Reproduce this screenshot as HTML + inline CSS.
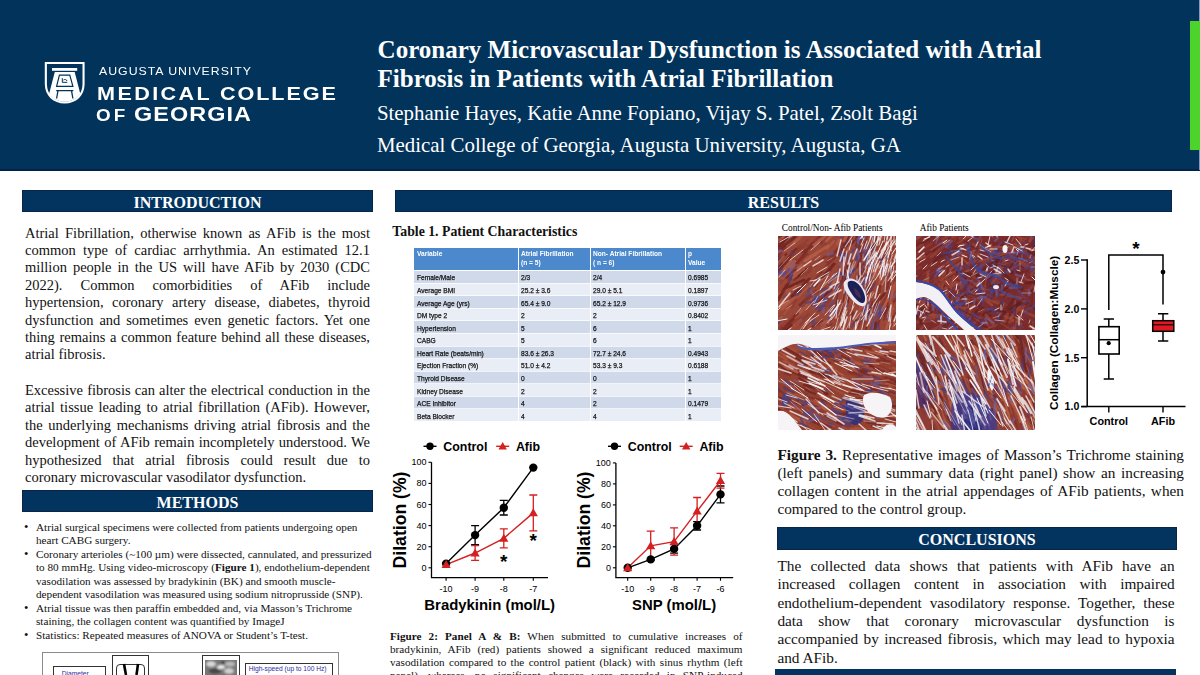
<!DOCTYPE html>
<html><head><meta charset="utf-8"><title>Poster</title>
<style>
html,body{margin:0;padding:0;}
body{width:1200px;height:675px;position:relative;overflow:hidden;background:#fff;}
.t{position:absolute;white-space:nowrap;}
.r{position:absolute;}
b{font-weight:bold;}
</style></head><body>
<div class="r" style="left:0px;top:0px;width:1200px;height:171px;background:#02335b;"></div>
<div class="r" style="left:0px;top:169px;width:1200px;height:2px;background:#042447;"></div>
<div class="r" style="left:1190px;top:21px;width:10px;height:129px;background:#4cd32c;"></div>
<div class="r" style="left:1199px;top:0px;width:1px;height:21px;background:#7f9cc4;"></div>
<div class="r" style="left:1199px;top:150px;width:1px;height:20px;background:#7f9cc4;"></div>
<div class="t" style="left:377.6px;top:33.54px;font-size:25px;line-height:31.25px;font-family:'Liberation Serif', serif;font-weight:bold;color:#fff;">Coronary Microvascular Dysfunction is Associated with Atrial</div>
<div class="t" style="left:377.6px;top:62.94px;font-size:25px;line-height:31.25px;font-family:'Liberation Serif', serif;font-weight:bold;color:#fff;">Fibrosis in Patients with Atrial Fibrillation</div>
<div class="t" style="left:376.9px;top:99.79px;font-size:20.9px;line-height:26.12px;font-family:'Liberation Serif', serif;font-weight:normal;color:#fff;">Stephanie Hayes, Katie Anne Fopiano, Vijay S. Patel, Zsolt Bagi</div>
<div class="t" style="left:376.9px;top:131.69px;font-size:20.9px;line-height:26.12px;font-family:'Liberation Serif', serif;font-weight:normal;color:#fff;">Medical College of Georgia, Augusta University, Augusta, GA</div>
<svg class="r" style="left:0;top:0" width="360" height="171" viewBox="0 0 360 171">
<path d="M44.8 61.9 H84.6 V84 C84.6 96 76 103.2 64.7 103.6 C53.4 103.2 44.8 96 44.8 84 Z" fill="#fff"/>
<path d="M46.9 64 H82.5 V84 C82.5 94.5 75 101.3 64.7 101.6 C54.4 101.3 46.9 94.5 46.9 84 Z" fill="#02335b"/>
<path d="M54.8 71.9 H74.7 L80.2 93.6 C77.5 98.5 72 101.6 64.7 101.7 C57.4 101.6 51.9 98.5 49.2 93.6 Z" fill="#fff"/>
<rect x="52" y="68" width="25.2" height="2.8" fill="#fff"/>
<path d="M59.4 75.1 H69.8 L72.9 86.4 H56.6 Z" fill="none" stroke="#02335b" stroke-width="1.2"/>
<path d="M62.3 78.2 V82.3 H67.3 M63.5 80 C65 79 66.5 79.5 67 81" stroke="#02335b" stroke-width="1" fill="none"/>
<path d="M56.2 90.7 H73.3 M58 90.7 L56.6 98.5 M71.5 90.7 L72.9 98.5" stroke="#02335b" stroke-width="1.3" fill="none"/>
</svg>
<div class="t" style="left:98.5px;top:64.60px;font-size:11.2px;line-height:13.44px;font-family:'Liberation Sans', sans-serif;font-weight:normal;color:#fff;letter-spacing:0.9px;transform:scaleX(1.1);transform-origin:0 0;">AUGUSTA UNIVERSITY</div>
<div class="t" style="left:97.0px;top:83.96px;font-size:18px;line-height:21.60px;font-family:'Liberation Sans', sans-serif;font-weight:bold;color:#fff;letter-spacing:2.0px;transform:scaleX(1.2);transform-origin:0 0;">MEDICAL</div>
<div class="t" style="left:219.5px;top:83.96px;font-size:18px;line-height:21.60px;font-family:'Liberation Sans', sans-serif;font-weight:bold;color:#fff;letter-spacing:1.6px;transform:scaleX(1.2);transform-origin:0 0;">COLLEGE</div>
<div class="t" style="left:96.0px;top:106.64px;font-size:15.7px;line-height:18.84px;font-family:'Liberation Sans', sans-serif;font-weight:bold;color:#fff;letter-spacing:2.6px;transform:scaleX(1.2);transform-origin:0 0;">OF</div>
<div class="t" style="left:133.8px;top:103.04px;font-size:19.5px;line-height:23.40px;font-family:'Liberation Sans', sans-serif;font-weight:bold;color:#fff;letter-spacing:0.9px;transform:scaleX(1.2);transform-origin:0 0;">GEORGIA</div>
<div class="r" style="left:22px;top:190px;width:351px;height:22px;background:#03345f;box-shadow:inset 0 0 0 1px #0a2545;"></div>
<div class="t" style="left:22px;top:192.50px;width:351px;text-align:center;font-size:16px;line-height:20.0px;font-family:'Liberation Serif', serif;font-weight:bold;color:#fff;">INTRODUCTION</div>
<div class="t" style="left:25px;top:223.75px;font-size:14.5px;line-height:18.12px;font-family:'Liberation Serif', serif;font-weight:normal;color:#111;width:345px;text-align:justify;text-align-last:justify;white-space:normal;">Atrial Fibrillation, otherwise known as AFib is the most</div>
<div class="t" style="left:25px;top:241.12px;font-size:14.5px;line-height:18.12px;font-family:'Liberation Serif', serif;font-weight:normal;color:#111;width:345px;text-align:justify;text-align-last:justify;white-space:normal;">common type of cardiac arrhythmia. An estimated 12.1</div>
<div class="t" style="left:25px;top:258.49px;font-size:14.5px;line-height:18.12px;font-family:'Liberation Serif', serif;font-weight:normal;color:#111;width:345px;text-align:justify;text-align-last:justify;white-space:normal;">million people in the US will have AFib by 2030 (CDC</div>
<div class="t" style="left:25px;top:275.86px;font-size:14.5px;line-height:18.12px;font-family:'Liberation Serif', serif;font-weight:normal;color:#111;width:345px;text-align:justify;text-align-last:justify;white-space:normal;">2022). Common comorbidities of AFib include</div>
<div class="t" style="left:25px;top:293.23px;font-size:14.5px;line-height:18.12px;font-family:'Liberation Serif', serif;font-weight:normal;color:#111;width:345px;text-align:justify;text-align-last:justify;white-space:normal;">hypertension, coronary artery disease, diabetes, thyroid</div>
<div class="t" style="left:25px;top:310.60px;font-size:14.5px;line-height:18.12px;font-family:'Liberation Serif', serif;font-weight:normal;color:#111;width:345px;text-align:justify;text-align-last:justify;white-space:normal;">dysfunction and sometimes even genetic factors. Yet one</div>
<div class="t" style="left:25px;top:327.97px;font-size:14.5px;line-height:18.12px;font-family:'Liberation Serif', serif;font-weight:normal;color:#111;width:345px;text-align:justify;text-align-last:justify;white-space:normal;">thing remains a common feature behind all these diseases,</div>
<div class="t" style="left:25px;top:345.34px;font-size:14.5px;line-height:18.12px;font-family:'Liberation Serif', serif;font-weight:normal;color:#111;width:345px;">atrial fibrosis.</div>
<div class="t" style="left:25px;top:381.05px;font-size:14.5px;line-height:18.12px;font-family:'Liberation Serif', serif;font-weight:normal;color:#111;width:345px;text-align:justify;text-align-last:justify;white-space:normal;">Excessive fibrosis can alter the electrical conduction in the</div>
<div class="t" style="left:25px;top:398.42px;font-size:14.5px;line-height:18.12px;font-family:'Liberation Serif', serif;font-weight:normal;color:#111;width:345px;text-align:justify;text-align-last:justify;white-space:normal;">atrial tissue leading to atrial fibrillation (AFib). However,</div>
<div class="t" style="left:25px;top:415.79px;font-size:14.5px;line-height:18.12px;font-family:'Liberation Serif', serif;font-weight:normal;color:#111;width:345px;text-align:justify;text-align-last:justify;white-space:normal;">the underlying mechanisms driving atrial fibrosis and the</div>
<div class="t" style="left:25px;top:433.16px;font-size:14.5px;line-height:18.12px;font-family:'Liberation Serif', serif;font-weight:normal;color:#111;width:345px;text-align:justify;text-align-last:justify;white-space:normal;">development of AFib remain incompletely understood. We</div>
<div class="t" style="left:25px;top:450.53px;font-size:14.5px;line-height:18.12px;font-family:'Liberation Serif', serif;font-weight:normal;color:#111;width:345px;text-align:justify;text-align-last:justify;white-space:normal;">hypothesized that atrial fibrosis could result due to</div>
<div class="t" style="left:25px;top:467.90px;font-size:14.5px;line-height:18.12px;font-family:'Liberation Serif', serif;font-weight:normal;color:#111;width:345px;">coronary microvascular vasodilator dysfunction.</div>
<div class="r" style="left:22px;top:490.3px;width:351px;height:22.2px;background:#03345f;box-shadow:inset 0 0 0 1px #0a2545;"></div>
<div class="t" style="left:22px;top:492.80px;width:351px;text-align:center;font-size:16px;line-height:20.0px;font-family:'Liberation Serif', serif;font-weight:bold;color:#fff;">METHODS</div>
<div class="t" style="left:24px;top:520.27px;font-size:12.5px;line-height:15.62px;font-family:'Liberation Serif', serif;font-weight:normal;color:#111;">•</div>
<div class="t" style="left:36px;top:519.92px;font-size:11.2px;line-height:14.0px;font-family:'Liberation Serif', serif;font-weight:normal;color:#111;white-space:nowrap;">Atrial surgical specimens were collected from patients undergoing open</div>
<div class="t" style="left:36px;top:533.37px;font-size:11.2px;line-height:14.0px;font-family:'Liberation Serif', serif;font-weight:normal;color:#111;white-space:nowrap;">heart CABG surgery.</div>
<div class="t" style="left:24px;top:547.17px;font-size:12.5px;line-height:15.62px;font-family:'Liberation Serif', serif;font-weight:normal;color:#111;">•</div>
<div class="t" style="left:36px;top:546.82px;font-size:11.2px;line-height:14.0px;font-family:'Liberation Serif', serif;font-weight:normal;color:#111;white-space:nowrap;">Coronary arterioles (~100 µm) were dissected, cannulated, and pressurized</div>
<div class="t" style="left:36px;top:560.27px;font-size:11.2px;line-height:14.0px;font-family:'Liberation Serif', serif;font-weight:normal;color:#111;white-space:nowrap;">to 80 mmHg. Using video-microscopy (<b>Figure 1</b>), endothelium-dependent</div>
<div class="t" style="left:36px;top:573.72px;font-size:11.2px;line-height:14.0px;font-family:'Liberation Serif', serif;font-weight:normal;color:#111;white-space:nowrap;">vasodilation was assessed by bradykinin (BK) and smooth muscle-</div>
<div class="t" style="left:36px;top:587.17px;font-size:11.2px;line-height:14.0px;font-family:'Liberation Serif', serif;font-weight:normal;color:#111;white-space:nowrap;">dependent vasodilation was measured using sodium nitroprusside (SNP).</div>
<div class="t" style="left:24px;top:600.97px;font-size:12.5px;line-height:15.62px;font-family:'Liberation Serif', serif;font-weight:normal;color:#111;">•</div>
<div class="t" style="left:36px;top:600.62px;font-size:11.2px;line-height:14.0px;font-family:'Liberation Serif', serif;font-weight:normal;color:#111;white-space:nowrap;">Atrial tissue was then paraffin embedded and, via Masson’s Trichrome</div>
<div class="t" style="left:36px;top:614.07px;font-size:11.2px;line-height:14.0px;font-family:'Liberation Serif', serif;font-weight:normal;color:#111;white-space:nowrap;">staining, the collagen content was quantified by ImageJ</div>
<div class="t" style="left:24px;top:627.87px;font-size:12.5px;line-height:15.62px;font-family:'Liberation Serif', serif;font-weight:normal;color:#111;">•</div>
<div class="t" style="left:36px;top:627.52px;font-size:11.2px;line-height:14.0px;font-family:'Liberation Serif', serif;font-weight:normal;color:#111;white-space:nowrap;">Statistics: Repeated measures of ANOVA or Student’s T-test.</div>
<div class="r" style="left:42px;top:652px;width:297px;height:40px;border:1px solid #8a8a8a;box-sizing:border-box;"></div>
<div class="r" style="left:53px;top:666px;width:53px;height:20px;border:1px solid #333;box-sizing:border-box;"></div>
<div class="t" style="left:61.7px;top:670.2px;font-size:6.7px;line-height:8px;font-family:&apos;Liberation Sans&apos;,sans-serif;color:#2a2aa0;">Diameter</div>
<div class="r" style="left:111.5px;top:654.5px;width:37px;height:30px;border:1px solid #333;box-sizing:border-box;"></div>
<div class="r" style="left:116px;top:663.5px;width:29px;height:25px;border:1px solid #333;border-radius:4px;box-sizing:border-box;"></div>
<svg class="r" style="left:116px;top:663px" width="30" height="12"><path d="M8 1 L10 12" stroke="#000" stroke-width="2.6"/><path d="M22 1 L20.5 12" stroke="#000" stroke-width="2.6"/></svg>
<div class="r" style="left:202px;top:654.5px;width:38px;height:30px;border:1px solid #333;box-sizing:border-box;"></div>
<svg class="r" style="left:205px;top:660px" width="32" height="15"><defs><filter id="gb"><feGaussianBlur stdDeviation="0.8"/></filter></defs><rect width="32" height="15" fill="#777"/><g filter="url(#gb)"><ellipse cx="6" cy="4" rx="5" ry="3" fill="#d8d8d8"/><ellipse cx="16" cy="7" rx="4" ry="2" fill="#eee"/><ellipse cx="25" cy="4" rx="5" ry="2.5" fill="#bbb"/><ellipse cx="10" cy="11" rx="6" ry="2.5" fill="#444"/><ellipse cx="24" cy="11" rx="5" ry="3" fill="#cfcfcf"/><ellipse cx="18" cy="3" rx="2" ry="1.5" fill="#333"/></g></svg>
<div class="r" style="left:244.5px;top:663px;width:88px;height:20px;border:1px solid #333;box-sizing:border-box;"></div>
<div class="t" style="left:248.7px;top:664.8px;font-size:6.65px;line-height:8px;font-family:&apos;Liberation Sans&apos;,sans-serif;color:#2a2aa0;">High-speed (up to 100 Hz)</div>

<div class="r" style="left:395px;top:190px;width:777px;height:22px;background:#03345f;box-shadow:inset 0 0 0 1px #0a2545;"></div>
<div class="t" style="left:395px;top:192.50px;width:777px;text-align:center;font-size:16px;line-height:20.0px;font-family:'Liberation Serif', serif;font-weight:bold;color:#fff;">RESULTS</div>
<div class="t" style="left:392.3px;top:222.72px;font-size:13.8px;line-height:17.25px;font-family:'Liberation Serif', serif;font-weight:bold;color:#111;">Table 1. Patient Characteristics</div>
<div class="r" style="left:414.2px;top:248.0px;width:307.09999999999997px;height:22.600000000000023px;background:#4b88cc;"></div>
<div class="r" style="left:414.2px;top:270.6px;width:307.09999999999997px;height:12.57px;background:#d0d9ea;"></div>
<div class="r" style="left:414.2px;top:283.17px;width:307.09999999999997px;height:12.57px;background:#e9edf6;"></div>
<div class="r" style="left:414.2px;top:295.74px;width:307.09999999999997px;height:12.57px;background:#d0d9ea;"></div>
<div class="r" style="left:414.2px;top:308.31px;width:307.09999999999997px;height:12.57px;background:#e9edf6;"></div>
<div class="r" style="left:414.2px;top:320.88px;width:307.09999999999997px;height:12.57px;background:#d0d9ea;"></div>
<div class="r" style="left:414.2px;top:333.45000000000005px;width:307.09999999999997px;height:12.57px;background:#e9edf6;"></div>
<div class="r" style="left:414.2px;top:346.02000000000004px;width:307.09999999999997px;height:12.57px;background:#d0d9ea;"></div>
<div class="r" style="left:414.2px;top:358.59000000000003px;width:307.09999999999997px;height:12.57px;background:#e9edf6;"></div>
<div class="r" style="left:414.2px;top:371.16px;width:307.09999999999997px;height:12.57px;background:#d0d9ea;"></div>
<div class="r" style="left:414.2px;top:383.73px;width:307.09999999999997px;height:12.57px;background:#e9edf6;"></div>
<div class="r" style="left:414.2px;top:396.3px;width:307.09999999999997px;height:12.57px;background:#d0d9ea;"></div>
<div class="r" style="left:414.2px;top:408.87px;width:307.09999999999997px;height:12.57px;background:#e9edf6;"></div>
<div class="r" style="left:517.9px;top:248.0px;width:1px;height:173.44000000000005px;background:#ffffff;"></div>
<div class="r" style="left:589.9px;top:248.0px;width:1px;height:173.44000000000005px;background:#ffffff;"></div>
<div class="r" style="left:685.1px;top:248.0px;width:1px;height:173.44000000000005px;background:#ffffff;"></div>
<div class="r" style="left:414.2px;top:282.77000000000004px;width:307.09999999999997px;height:0.8px;background:rgba(255,255,255,0.7);"></div>
<div class="r" style="left:414.2px;top:295.34000000000003px;width:307.09999999999997px;height:0.8px;background:rgba(255,255,255,0.7);"></div>
<div class="r" style="left:414.2px;top:307.91px;width:307.09999999999997px;height:0.8px;background:rgba(255,255,255,0.7);"></div>
<div class="r" style="left:414.2px;top:320.48px;width:307.09999999999997px;height:0.8px;background:rgba(255,255,255,0.7);"></div>
<div class="r" style="left:414.2px;top:333.05000000000007px;width:307.09999999999997px;height:0.8px;background:rgba(255,255,255,0.7);"></div>
<div class="r" style="left:414.2px;top:345.62000000000006px;width:307.09999999999997px;height:0.8px;background:rgba(255,255,255,0.7);"></div>
<div class="r" style="left:414.2px;top:358.19000000000005px;width:307.09999999999997px;height:0.8px;background:rgba(255,255,255,0.7);"></div>
<div class="r" style="left:414.2px;top:370.76000000000005px;width:307.09999999999997px;height:0.8px;background:rgba(255,255,255,0.7);"></div>
<div class="r" style="left:414.2px;top:383.33000000000004px;width:307.09999999999997px;height:0.8px;background:rgba(255,255,255,0.7);"></div>
<div class="r" style="left:414.2px;top:395.90000000000003px;width:307.09999999999997px;height:0.8px;background:rgba(255,255,255,0.7);"></div>
<div class="r" style="left:414.2px;top:408.47px;width:307.09999999999997px;height:0.8px;background:rgba(255,255,255,0.7);"></div>
<div class="r" style="left:414.2px;top:421.0400000000001px;width:307.09999999999997px;height:0.8px;background:rgba(255,255,255,0.7);"></div>
<div class="r" style="left:414.2px;top:270.1px;width:307.09999999999997px;height:1.2px;background:#ffffff;"></div>
<div class="t" style="left:416.5px;top:249.22px;font-size:7.6px;line-height:9.5px;font-family:'Liberation Sans', sans-serif;font-weight:bold;color:#fff;white-space:nowrap;transform:scaleX(0.87);transform-origin:0 0;">Variable</div>
<div class="t" style="left:520.6999999999999px;top:249.22px;font-size:7.6px;line-height:9.5px;font-family:'Liberation Sans', sans-serif;font-weight:bold;color:#fff;white-space:nowrap;transform:scaleX(0.87);transform-origin:0 0;">Atrial Fibrillation</div>
<div class="t" style="left:520.6999999999999px;top:258.42px;font-size:7.6px;line-height:9.5px;font-family:'Liberation Sans', sans-serif;font-weight:bold;color:#fff;white-space:nowrap;transform:scaleX(0.87);transform-origin:0 0;">(n = 5)</div>
<div class="t" style="left:592.6999999999999px;top:249.22px;font-size:7.6px;line-height:9.5px;font-family:'Liberation Sans', sans-serif;font-weight:bold;color:#fff;white-space:nowrap;transform:scaleX(0.87);transform-origin:0 0;">Non- Atrial Fibrillation</div>
<div class="t" style="left:592.6999999999999px;top:258.42px;font-size:7.6px;line-height:9.5px;font-family:'Liberation Sans', sans-serif;font-weight:bold;color:#fff;white-space:nowrap;transform:scaleX(0.87);transform-origin:0 0;">( n = 6)</div>
<div class="t" style="left:687.9px;top:249.22px;font-size:7.6px;line-height:9.5px;font-family:'Liberation Sans', sans-serif;font-weight:bold;color:#fff;white-space:nowrap;transform:scaleX(0.87);transform-origin:0 0;">p</div>
<div class="t" style="left:687.9px;top:258.42px;font-size:7.6px;line-height:9.5px;font-family:'Liberation Sans', sans-serif;font-weight:bold;color:#fff;white-space:nowrap;transform:scaleX(0.87);transform-origin:0 0;">Value</div>
<div class="t" style="left:416.5px;top:273.42px;font-size:7.6px;line-height:9.5px;font-family:'Liberation Sans', sans-serif;font-weight:normal;color:#111;white-space:nowrap;-webkit-text-stroke:0.25px #111;transform:scaleX(0.87);transform-origin:0 0;">Female/Male</div>
<div class="t" style="left:520.6999999999999px;top:273.42px;font-size:7.6px;line-height:9.5px;font-family:'Liberation Sans', sans-serif;font-weight:normal;color:#111;white-space:nowrap;-webkit-text-stroke:0.25px #111;transform:scaleX(0.87);transform-origin:0 0;">2/3</div>
<div class="t" style="left:592.6999999999999px;top:273.42px;font-size:7.6px;line-height:9.5px;font-family:'Liberation Sans', sans-serif;font-weight:normal;color:#111;white-space:nowrap;-webkit-text-stroke:0.25px #111;transform:scaleX(0.87);transform-origin:0 0;">2/4</div>
<div class="t" style="left:687.9px;top:273.42px;font-size:7.6px;line-height:9.5px;font-family:'Liberation Sans', sans-serif;font-weight:normal;color:#111;white-space:nowrap;-webkit-text-stroke:0.25px #111;transform:scaleX(0.87);transform-origin:0 0;">0.6985</div>
<div class="t" style="left:416.5px;top:285.99px;font-size:7.6px;line-height:9.5px;font-family:'Liberation Sans', sans-serif;font-weight:normal;color:#111;white-space:nowrap;-webkit-text-stroke:0.25px #111;transform:scaleX(0.87);transform-origin:0 0;">Average BMI</div>
<div class="t" style="left:520.6999999999999px;top:285.99px;font-size:7.6px;line-height:9.5px;font-family:'Liberation Sans', sans-serif;font-weight:normal;color:#111;white-space:nowrap;-webkit-text-stroke:0.25px #111;transform:scaleX(0.87);transform-origin:0 0;">25.2 ± 3.6</div>
<div class="t" style="left:592.6999999999999px;top:285.99px;font-size:7.6px;line-height:9.5px;font-family:'Liberation Sans', sans-serif;font-weight:normal;color:#111;white-space:nowrap;-webkit-text-stroke:0.25px #111;transform:scaleX(0.87);transform-origin:0 0;">29.0 ± 5.1</div>
<div class="t" style="left:687.9px;top:285.99px;font-size:7.6px;line-height:9.5px;font-family:'Liberation Sans', sans-serif;font-weight:normal;color:#111;white-space:nowrap;-webkit-text-stroke:0.25px #111;transform:scaleX(0.87);transform-origin:0 0;">0.1897</div>
<div class="t" style="left:416.5px;top:298.56px;font-size:7.6px;line-height:9.5px;font-family:'Liberation Sans', sans-serif;font-weight:normal;color:#111;white-space:nowrap;-webkit-text-stroke:0.25px #111;transform:scaleX(0.87);transform-origin:0 0;">Average Age (yrs)</div>
<div class="t" style="left:520.6999999999999px;top:298.56px;font-size:7.6px;line-height:9.5px;font-family:'Liberation Sans', sans-serif;font-weight:normal;color:#111;white-space:nowrap;-webkit-text-stroke:0.25px #111;transform:scaleX(0.87);transform-origin:0 0;">65.4 ± 9.0</div>
<div class="t" style="left:592.6999999999999px;top:298.56px;font-size:7.6px;line-height:9.5px;font-family:'Liberation Sans', sans-serif;font-weight:normal;color:#111;white-space:nowrap;-webkit-text-stroke:0.25px #111;transform:scaleX(0.87);transform-origin:0 0;">65.2 ± 12.9</div>
<div class="t" style="left:687.9px;top:298.56px;font-size:7.6px;line-height:9.5px;font-family:'Liberation Sans', sans-serif;font-weight:normal;color:#111;white-space:nowrap;-webkit-text-stroke:0.25px #111;transform:scaleX(0.87);transform-origin:0 0;">0.9736</div>
<div class="t" style="left:416.5px;top:311.13px;font-size:7.6px;line-height:9.5px;font-family:'Liberation Sans', sans-serif;font-weight:normal;color:#111;white-space:nowrap;-webkit-text-stroke:0.25px #111;transform:scaleX(0.87);transform-origin:0 0;">DM type 2</div>
<div class="t" style="left:520.6999999999999px;top:311.13px;font-size:7.6px;line-height:9.5px;font-family:'Liberation Sans', sans-serif;font-weight:normal;color:#111;white-space:nowrap;-webkit-text-stroke:0.25px #111;transform:scaleX(0.87);transform-origin:0 0;">2</div>
<div class="t" style="left:592.6999999999999px;top:311.13px;font-size:7.6px;line-height:9.5px;font-family:'Liberation Sans', sans-serif;font-weight:normal;color:#111;white-space:nowrap;-webkit-text-stroke:0.25px #111;transform:scaleX(0.87);transform-origin:0 0;">2</div>
<div class="t" style="left:687.9px;top:311.13px;font-size:7.6px;line-height:9.5px;font-family:'Liberation Sans', sans-serif;font-weight:normal;color:#111;white-space:nowrap;-webkit-text-stroke:0.25px #111;transform:scaleX(0.87);transform-origin:0 0;">0.8402</div>
<div class="t" style="left:416.5px;top:323.70px;font-size:7.6px;line-height:9.5px;font-family:'Liberation Sans', sans-serif;font-weight:normal;color:#111;white-space:nowrap;-webkit-text-stroke:0.25px #111;transform:scaleX(0.87);transform-origin:0 0;">Hypertension</div>
<div class="t" style="left:520.6999999999999px;top:323.70px;font-size:7.6px;line-height:9.5px;font-family:'Liberation Sans', sans-serif;font-weight:normal;color:#111;white-space:nowrap;-webkit-text-stroke:0.25px #111;transform:scaleX(0.87);transform-origin:0 0;">5</div>
<div class="t" style="left:592.6999999999999px;top:323.70px;font-size:7.6px;line-height:9.5px;font-family:'Liberation Sans', sans-serif;font-weight:normal;color:#111;white-space:nowrap;-webkit-text-stroke:0.25px #111;transform:scaleX(0.87);transform-origin:0 0;">6</div>
<div class="t" style="left:687.9px;top:323.70px;font-size:7.6px;line-height:9.5px;font-family:'Liberation Sans', sans-serif;font-weight:normal;color:#111;white-space:nowrap;-webkit-text-stroke:0.25px #111;transform:scaleX(0.87);transform-origin:0 0;">1</div>
<div class="t" style="left:416.5px;top:336.27px;font-size:7.6px;line-height:9.5px;font-family:'Liberation Sans', sans-serif;font-weight:normal;color:#111;white-space:nowrap;-webkit-text-stroke:0.25px #111;transform:scaleX(0.87);transform-origin:0 0;">CABG</div>
<div class="t" style="left:520.6999999999999px;top:336.27px;font-size:7.6px;line-height:9.5px;font-family:'Liberation Sans', sans-serif;font-weight:normal;color:#111;white-space:nowrap;-webkit-text-stroke:0.25px #111;transform:scaleX(0.87);transform-origin:0 0;">5</div>
<div class="t" style="left:592.6999999999999px;top:336.27px;font-size:7.6px;line-height:9.5px;font-family:'Liberation Sans', sans-serif;font-weight:normal;color:#111;white-space:nowrap;-webkit-text-stroke:0.25px #111;transform:scaleX(0.87);transform-origin:0 0;">6</div>
<div class="t" style="left:687.9px;top:336.27px;font-size:7.6px;line-height:9.5px;font-family:'Liberation Sans', sans-serif;font-weight:normal;color:#111;white-space:nowrap;-webkit-text-stroke:0.25px #111;transform:scaleX(0.87);transform-origin:0 0;">1</div>
<div class="t" style="left:416.5px;top:348.84px;font-size:7.6px;line-height:9.5px;font-family:'Liberation Sans', sans-serif;font-weight:normal;color:#111;white-space:nowrap;-webkit-text-stroke:0.25px #111;transform:scaleX(0.87);transform-origin:0 0;">Heart Rate (beats/min)</div>
<div class="t" style="left:520.6999999999999px;top:348.84px;font-size:7.6px;line-height:9.5px;font-family:'Liberation Sans', sans-serif;font-weight:normal;color:#111;white-space:nowrap;-webkit-text-stroke:0.25px #111;transform:scaleX(0.87);transform-origin:0 0;">83.6 ± 26.3</div>
<div class="t" style="left:592.6999999999999px;top:348.84px;font-size:7.6px;line-height:9.5px;font-family:'Liberation Sans', sans-serif;font-weight:normal;color:#111;white-space:nowrap;-webkit-text-stroke:0.25px #111;transform:scaleX(0.87);transform-origin:0 0;">72.7 ± 24.6</div>
<div class="t" style="left:687.9px;top:348.84px;font-size:7.6px;line-height:9.5px;font-family:'Liberation Sans', sans-serif;font-weight:normal;color:#111;white-space:nowrap;-webkit-text-stroke:0.25px #111;transform:scaleX(0.87);transform-origin:0 0;">0.4943</div>
<div class="t" style="left:416.5px;top:361.41px;font-size:7.6px;line-height:9.5px;font-family:'Liberation Sans', sans-serif;font-weight:normal;color:#111;white-space:nowrap;-webkit-text-stroke:0.25px #111;transform:scaleX(0.87);transform-origin:0 0;">Ejection Fraction (%)</div>
<div class="t" style="left:520.6999999999999px;top:361.41px;font-size:7.6px;line-height:9.5px;font-family:'Liberation Sans', sans-serif;font-weight:normal;color:#111;white-space:nowrap;-webkit-text-stroke:0.25px #111;transform:scaleX(0.87);transform-origin:0 0;">51.0 ± 4.2</div>
<div class="t" style="left:592.6999999999999px;top:361.41px;font-size:7.6px;line-height:9.5px;font-family:'Liberation Sans', sans-serif;font-weight:normal;color:#111;white-space:nowrap;-webkit-text-stroke:0.25px #111;transform:scaleX(0.87);transform-origin:0 0;">53.3 ± 9.3</div>
<div class="t" style="left:687.9px;top:361.41px;font-size:7.6px;line-height:9.5px;font-family:'Liberation Sans', sans-serif;font-weight:normal;color:#111;white-space:nowrap;-webkit-text-stroke:0.25px #111;transform:scaleX(0.87);transform-origin:0 0;">0.6188</div>
<div class="t" style="left:416.5px;top:373.98px;font-size:7.6px;line-height:9.5px;font-family:'Liberation Sans', sans-serif;font-weight:normal;color:#111;white-space:nowrap;-webkit-text-stroke:0.25px #111;transform:scaleX(0.87);transform-origin:0 0;">Thyroid Disease</div>
<div class="t" style="left:520.6999999999999px;top:373.98px;font-size:7.6px;line-height:9.5px;font-family:'Liberation Sans', sans-serif;font-weight:normal;color:#111;white-space:nowrap;-webkit-text-stroke:0.25px #111;transform:scaleX(0.87);transform-origin:0 0;">0</div>
<div class="t" style="left:592.6999999999999px;top:373.98px;font-size:7.6px;line-height:9.5px;font-family:'Liberation Sans', sans-serif;font-weight:normal;color:#111;white-space:nowrap;-webkit-text-stroke:0.25px #111;transform:scaleX(0.87);transform-origin:0 0;">0</div>
<div class="t" style="left:687.9px;top:373.98px;font-size:7.6px;line-height:9.5px;font-family:'Liberation Sans', sans-serif;font-weight:normal;color:#111;white-space:nowrap;-webkit-text-stroke:0.25px #111;transform:scaleX(0.87);transform-origin:0 0;">1</div>
<div class="t" style="left:416.5px;top:386.55px;font-size:7.6px;line-height:9.5px;font-family:'Liberation Sans', sans-serif;font-weight:normal;color:#111;white-space:nowrap;-webkit-text-stroke:0.25px #111;transform:scaleX(0.87);transform-origin:0 0;">Kidney Disease</div>
<div class="t" style="left:520.6999999999999px;top:386.55px;font-size:7.6px;line-height:9.5px;font-family:'Liberation Sans', sans-serif;font-weight:normal;color:#111;white-space:nowrap;-webkit-text-stroke:0.25px #111;transform:scaleX(0.87);transform-origin:0 0;">2</div>
<div class="t" style="left:592.6999999999999px;top:386.55px;font-size:7.6px;line-height:9.5px;font-family:'Liberation Sans', sans-serif;font-weight:normal;color:#111;white-space:nowrap;-webkit-text-stroke:0.25px #111;transform:scaleX(0.87);transform-origin:0 0;">2</div>
<div class="t" style="left:687.9px;top:386.55px;font-size:7.6px;line-height:9.5px;font-family:'Liberation Sans', sans-serif;font-weight:normal;color:#111;white-space:nowrap;-webkit-text-stroke:0.25px #111;transform:scaleX(0.87);transform-origin:0 0;">1</div>
<div class="t" style="left:416.5px;top:399.12px;font-size:7.6px;line-height:9.5px;font-family:'Liberation Sans', sans-serif;font-weight:normal;color:#111;white-space:nowrap;-webkit-text-stroke:0.25px #111;transform:scaleX(0.87);transform-origin:0 0;">ACE Inhibitor</div>
<div class="t" style="left:520.6999999999999px;top:399.12px;font-size:7.6px;line-height:9.5px;font-family:'Liberation Sans', sans-serif;font-weight:normal;color:#111;white-space:nowrap;-webkit-text-stroke:0.25px #111;transform:scaleX(0.87);transform-origin:0 0;">4</div>
<div class="t" style="left:592.6999999999999px;top:399.12px;font-size:7.6px;line-height:9.5px;font-family:'Liberation Sans', sans-serif;font-weight:normal;color:#111;white-space:nowrap;-webkit-text-stroke:0.25px #111;transform:scaleX(0.87);transform-origin:0 0;">2</div>
<div class="t" style="left:687.9px;top:399.12px;font-size:7.6px;line-height:9.5px;font-family:'Liberation Sans', sans-serif;font-weight:normal;color:#111;white-space:nowrap;-webkit-text-stroke:0.25px #111;transform:scaleX(0.87);transform-origin:0 0;">0.1479</div>
<div class="t" style="left:416.5px;top:411.69px;font-size:7.6px;line-height:9.5px;font-family:'Liberation Sans', sans-serif;font-weight:normal;color:#111;white-space:nowrap;-webkit-text-stroke:0.25px #111;transform:scaleX(0.87);transform-origin:0 0;">Beta Blocker</div>
<div class="t" style="left:520.6999999999999px;top:411.69px;font-size:7.6px;line-height:9.5px;font-family:'Liberation Sans', sans-serif;font-weight:normal;color:#111;white-space:nowrap;-webkit-text-stroke:0.25px #111;transform:scaleX(0.87);transform-origin:0 0;">4</div>
<div class="t" style="left:592.6999999999999px;top:411.69px;font-size:7.6px;line-height:9.5px;font-family:'Liberation Sans', sans-serif;font-weight:normal;color:#111;white-space:nowrap;-webkit-text-stroke:0.25px #111;transform:scaleX(0.87);transform-origin:0 0;">4</div>
<div class="t" style="left:687.9px;top:411.69px;font-size:7.6px;line-height:9.5px;font-family:'Liberation Sans', sans-serif;font-weight:normal;color:#111;white-space:nowrap;-webkit-text-stroke:0.25px #111;transform:scaleX(0.87);transform-origin:0 0;">1</div>
<svg class="r" style="left:0;top:0" width="1200" height="675" viewBox="0 0 1200 675" font-family="Liberation Sans, sans-serif"><path d="M431.5 462.3 V577.7 H548" stroke="#000" stroke-width="1.3" fill="none"/><path d="M428.5 567.8 H431.5" stroke="#000" stroke-width="1.1"/><text x="426.5" y="570.8" font-size="9" text-anchor="end">0</text><path d="M428.5 546.7 H431.5" stroke="#000" stroke-width="1.1"/><text x="426.5" y="549.7" font-size="9" text-anchor="end">20</text><path d="M428.5 525.6 H431.5" stroke="#000" stroke-width="1.1"/><text x="426.5" y="528.6" font-size="9" text-anchor="end">40</text><path d="M428.5 504.5 H431.5" stroke="#000" stroke-width="1.1"/><text x="426.5" y="507.5" font-size="9" text-anchor="end">60</text><path d="M428.5 483.4 H431.5" stroke="#000" stroke-width="1.1"/><text x="426.5" y="486.4" font-size="9" text-anchor="end">80</text><path d="M428.5 462.3 H431.5" stroke="#000" stroke-width="1.1"/><text x="426.5" y="465.3" font-size="9" text-anchor="end">100</text><path d="M446.1 577.7 V580.7" stroke="#000" stroke-width="1.1"/><text x="446.1" y="592.3000000000001" font-size="9" text-anchor="middle">-10</text><path d="M475.1 577.7 V580.7" stroke="#000" stroke-width="1.1"/><text x="475.1" y="592.3000000000001" font-size="9" text-anchor="middle">-9</text><path d="M503.8 577.7 V580.7" stroke="#000" stroke-width="1.1"/><text x="503.8" y="592.3000000000001" font-size="9" text-anchor="middle">-8</text><path d="M533.3 577.7 V580.7" stroke="#000" stroke-width="1.1"/><text x="533.3" y="592.3000000000001" font-size="9" text-anchor="middle">-7</text><text x="489.7" y="610.0" font-size="14.9" font-weight="bold" text-anchor="middle">Bradykinin (mol/L)</text><text transform="translate(399.7 520) rotate(-90)" x="0" y="6.4" font-size="17.6" font-weight="bold" text-anchor="middle">Dilation (%)</text><path d="M475.1 525.6 V544.6 M471.1 525.6 H479.1 M471.1 544.6 H479.1" stroke="#000" stroke-width="1.3"/><path d="M503.8 500.3 V515.0 M499.8 500.3 H507.8 M499.8 515.0 H507.8" stroke="#000" stroke-width="1.3"/><path d="M475.1 545.6 V560.4 M471.1 545.6 H479.1 M471.1 560.4 H479.1" stroke="#d42020" stroke-width="1.3"/><path d="M503.8 528.8 V547.8 M499.8 528.8 H507.8 M499.8 547.8 H507.8" stroke="#d42020" stroke-width="1.3"/><path d="M533.3 495.0 V530.9 M529.3 495.0 H537.3 M529.3 530.9 H537.3" stroke="#d42020" stroke-width="1.3"/><polyline points="446.1,563.6 475.1,535.1 503.8,507.7 533.3,467.6" stroke="#000" stroke-width="1.4" fill="none"/><polyline points="446.1,564.6 475.1,553.0 503.8,538.3 533.3,512.9" stroke="#d42020" stroke-width="1.4" fill="none"/><circle cx="446.1" cy="563.6" r="4.2" fill="#000"/><circle cx="475.1" cy="535.1" r="4.2" fill="#000"/><circle cx="503.8" cy="507.7" r="4.2" fill="#000"/><circle cx="533.3" cy="467.6" r="4.2" fill="#000"/><path d="M441.5 568.0 L446.1 560.0 L450.7 568.0 Z" fill="#d42020"/><path d="M470.5 556.4 L475.1 548.4 L479.7 556.4 Z" fill="#d42020"/><path d="M499.2 541.7 L503.8 533.7 L508.4 541.7 Z" fill="#d42020"/><path d="M528.7 516.3 L533.3 508.3 L537.9 516.3 Z" fill="#d42020"/><path d="M423.5 446.3 H436.5" stroke="#000" stroke-width="1.4"/><circle cx="430.0" cy="446.3" r="3.7" fill="#000"/><text x="443.3" y="450.7" font-size="12.4" font-weight="bold">Control</text><path d="M496.2 446.3 H509.2" stroke="#d42020" stroke-width="1.4"/><path d="M498.5 449.5 L502.7 442.1 L506.9 449.5 Z" fill="#d42020"/><text x="515.9" y="450.7" font-size="12.4" font-weight="bold">Afib</text><text x="503.8" y="568" font-size="19" font-weight="bold" text-anchor="middle">*</text><text x="533.3" y="547" font-size="19" font-weight="bold" text-anchor="middle">*</text><path d="M615.9 462.9 V577.7 H733.2" stroke="#000" stroke-width="1.3" fill="none"/><path d="M612.9 567.8 H615.9" stroke="#000" stroke-width="1.1"/><text x="610.9" y="570.8" font-size="9" text-anchor="end">0</text><path d="M612.9 546.8 H615.9" stroke="#000" stroke-width="1.1"/><text x="610.9" y="549.8" font-size="9" text-anchor="end">20</text><path d="M612.9 525.8 H615.9" stroke="#000" stroke-width="1.1"/><text x="610.9" y="528.8" font-size="9" text-anchor="end">40</text><path d="M612.9 504.9 H615.9" stroke="#000" stroke-width="1.1"/><text x="610.9" y="507.9" font-size="9" text-anchor="end">60</text><path d="M612.9 483.9 H615.9" stroke="#000" stroke-width="1.1"/><text x="610.9" y="486.9" font-size="9" text-anchor="end">80</text><path d="M612.9 462.9 H615.9" stroke="#000" stroke-width="1.1"/><text x="610.9" y="465.9" font-size="9" text-anchor="end">100</text><path d="M627.7 577.7 V580.7" stroke="#000" stroke-width="1.1"/><text x="627.7" y="592.3000000000001" font-size="9" text-anchor="middle">-10</text><path d="M650.7 577.7 V580.7" stroke="#000" stroke-width="1.1"/><text x="650.7" y="592.3000000000001" font-size="9" text-anchor="middle">-9</text><path d="M674.1 577.7 V580.7" stroke="#000" stroke-width="1.1"/><text x="674.1" y="592.3000000000001" font-size="9" text-anchor="middle">-8</text><path d="M697.1 577.7 V580.7" stroke="#000" stroke-width="1.1"/><text x="697.1" y="592.3000000000001" font-size="9" text-anchor="middle">-7</text><path d="M720.5 577.7 V580.7" stroke="#000" stroke-width="1.1"/><text x="720.5" y="592.3000000000001" font-size="9" text-anchor="middle">-6</text><text x="674.1" y="610.0" font-size="14.9" font-weight="bold" text-anchor="middle">SNP (mol/L)</text><text transform="translate(583.3 520) rotate(-90)" x="0" y="6.4" font-size="17.6" font-weight="bold" text-anchor="middle">Dilation (%)</text><path d="M674.1 544.7 V553.1 M670.1 544.7 H678.1 M670.1 553.1 H678.1" stroke="#000" stroke-width="1.3"/><path d="M697.1 521.6 V530.0 M693.1 521.6 H701.1 M693.1 530.0 H701.1" stroke="#000" stroke-width="1.3"/><path d="M720.5 486.0 V502.8 M716.5 486.0 H724.5 M716.5 502.8 H724.5" stroke="#000" stroke-width="1.3"/><path d="M650.7 531.1 V560.5 M646.7 531.1 H654.7 M646.7 560.5 H654.7" stroke="#d42020" stroke-width="1.3"/><path d="M674.1 527.9 V555.2 M670.1 527.9 H678.1 M670.1 555.2 H678.1" stroke="#d42020" stroke-width="1.3"/><path d="M697.1 497.5 V524.8 M693.1 497.5 H701.1 M693.1 524.8 H701.1" stroke="#d42020" stroke-width="1.3"/><path d="M720.5 473.4 V488.1 M716.5 473.4 H724.5 M716.5 488.1 H724.5" stroke="#d42020" stroke-width="1.3"/><polyline points="627.7,567.8 650.7,559.4 674.1,548.9 697.1,525.8 720.5,494.4" stroke="#000" stroke-width="1.4" fill="none"/><polyline points="627.7,567.8 650.7,545.8 674.1,541.6 697.1,511.2 720.5,480.7" stroke="#d42020" stroke-width="1.4" fill="none"/><circle cx="627.7" cy="567.8" r="4.2" fill="#000"/><circle cx="650.7" cy="559.4" r="4.2" fill="#000"/><circle cx="674.1" cy="548.9" r="4.2" fill="#000"/><circle cx="697.1" cy="525.8" r="4.2" fill="#000"/><circle cx="720.5" cy="494.4" r="4.2" fill="#000"/><path d="M623.1 571.2 L627.7 563.2 L632.3 571.2 Z" fill="#d42020"/><path d="M646.1 549.2 L650.7 541.2 L655.3 549.2 Z" fill="#d42020"/><path d="M669.5 545.0 L674.1 537.0 L678.7 545.0 Z" fill="#d42020"/><path d="M692.5 514.6 L697.1 506.6 L701.7 514.6 Z" fill="#d42020"/><path d="M715.9 484.1 L720.5 476.1 L725.1 484.1 Z" fill="#d42020"/><path d="M608 446.3 H621" stroke="#000" stroke-width="1.4"/><circle cx="614.5" cy="446.3" r="3.7" fill="#000"/><text x="627.7" y="450.7" font-size="12.4" font-weight="bold">Control</text><path d="M679.7 446.3 H692.7" stroke="#d42020" stroke-width="1.4"/><path d="M682.0 449.5 L686.2 442.1 L690.4000000000001 449.5 Z" fill="#d42020"/><text x="699.4" y="450.7" font-size="12.4" font-weight="bold">Afib</text><path d="M1087.2 259.3 V406.6 M1081.4 406.6 H1185.5" stroke="#000" stroke-width="1.5" fill="none"/><path d="M1081.0 406.6 H1087.2" stroke="#000" stroke-width="1.4"/><text x="1079.3" y="410.4" font-size="10.6" font-weight="bold" text-anchor="end">1.0</text><path d="M1081.0 357.7 H1087.2" stroke="#000" stroke-width="1.4"/><text x="1079.3" y="361.5" font-size="10.6" font-weight="bold" text-anchor="end">1.5</text><path d="M1081.0 308.9 H1087.2" stroke="#000" stroke-width="1.4"/><text x="1079.3" y="312.7" font-size="10.6" font-weight="bold" text-anchor="end">2.0</text><path d="M1081.0 260.0 H1087.2" stroke="#000" stroke-width="1.4"/><text x="1079.3" y="263.8" font-size="10.6" font-weight="bold" text-anchor="end">2.5</text><path d="M1108.8 406.6 V412.4" stroke="#000" stroke-width="1.4"/><text x="1108.8" y="424.5" font-size="10.8" font-weight="bold" text-anchor="middle">Control</text><path d="M1163 406.6 V412.4" stroke="#000" stroke-width="1.4"/><text x="1163" y="424.5" font-size="10.8" font-weight="bold" text-anchor="middle">AFib</text><text transform="translate(1057.8 332.9) rotate(-90)" x="0" y="0" font-size="11.75" font-weight="bold" text-anchor="middle">Collagen (Collagen:Muscle)</text><path d="M1108.8 319 V326.7 M1108.8 354 V378.9 M1103.7 378.9 H1114 M1103.7 319 H1114" stroke="#000" stroke-width="1.5"/><rect x="1098.9" y="326.7" width="20.3" height="27.3" fill="#fff" stroke="#000" stroke-width="1.6"/><path d="M1098.9 339.7 H1119.2" stroke="#000" stroke-width="1.5"/><circle cx="1108.7" cy="343.2" r="2.1" fill="#000"/><path d="M1163 313.7 V320.7 M1163 331.3 V341 M1158 341 H1168.3 M1158 313.7 H1168.3" stroke="#000" stroke-width="1.5"/><rect x="1152.7" y="320.7" width="21.1" height="10.6" fill="#e01822" stroke="#000" stroke-width="1.5"/><path d="M1152.7 324.8 H1173.8" stroke="#000" stroke-width="1.1"/><circle cx="1163" cy="272.1" r="2.4" fill="#000"/><path d="M1108.8 310 V255 H1163 V304.4" stroke="#000" stroke-width="1.5" fill="none"/><text x="1136" y="254.5" font-size="19" font-weight="bold" text-anchor="middle">*</text></svg>
<div class="t" style="left:781.8px;top:223.35px;font-size:9.3px;line-height:11.62px;font-family:'Liberation Serif', serif;font-weight:normal;color:#000;white-space:nowrap;">Control/Non- Afib Patients</div>
<div class="t" style="left:919.8px;top:223.35px;font-size:9.3px;line-height:11.62px;font-family:'Liberation Serif', serif;font-weight:normal;color:#000;white-space:nowrap;">Afib Patients</div>
<svg class="r" style="left:778px;top:236.4px" width="118" height="94" viewBox="0 0 118 94"><defs><filter id="bl11" x="-5%" y="-5%" width="110%" height="110%"><feGaussianBlur stdDeviation="0.7"/></filter></defs><rect width="118" height="94" fill="#9a4636"/><g stroke-linecap="round" fill="none" filter="url(#bl11)"><path d="M46 58L60 48M-7 48L-0 39M65 35L68 20M88 21L100 -1M61 45L68 27M6 78L14 69" stroke="#ac5442" stroke-width="1.5" opacity="0.8"/><path d="M52 63L60 55M2 47L20 33M95 92L106 73M45 75L53 63M13 16L30 4M21 41L32 35M29 76L42 54" stroke="#8a382e" stroke-width="2.0" opacity="0.6"/><path d="M90 77L107 57M64 42L72 23M78 50L83 35M57 93L63 73M98 10L103 -2M-10 33L8 18M21 98L32 85M34 70L53 54M69 70L71 57" stroke="#6a2220" stroke-width="2.5" opacity="0.8"/><path d="M73 86L77 77M49 58L67 41M39 7L58 -11M82 52L93 36M-7 8L7 -5M2 59L10 48M61 19L72 2M40 76L57 56" stroke="#7a2a24" stroke-width="1.5" opacity="0.6"/><path d="M-6 50L4 36M-10 5L9 -11M10 89L21 78M5 94L13 88" stroke="#6a2220" stroke-width="2.0" opacity="0.6"/><path d="M-0 68L12 59M61 11L67 -12M113 60L117 49M58 82L62 72M-1 20L12 5M44 92L53 84M5 42L24 29" stroke="#ac5442" stroke-width="3.0" opacity="0.8"/><path d="M84 32L87 23M31 85L39 80M82 31L92 11M16 44L26 35M11 23L25 14M102 31L105 22M82 17L91 -2M100 89L103 79" stroke="#7a2a24" stroke-width="2.0" opacity="0.8"/><path d="M35 101L54 88M-2 39L14 20M69 8L74 -2M33 42L45 36M86 34L89 25M83 100L86 85M106 84L110 67" stroke="#7a2a24" stroke-width="1.5" opacity="0.8"/><path d="M-5 40L8 28M27 36L44 19M64 99L66 90M70 84L73 64" stroke="#a04838" stroke-width="3.0" opacity="0.6"/><path d="M8 65L16 59M33 50L52 34M2 92L13 83M58 44L68 27M14 71L23 55M42 15L48 8M62 91L69 76M20 14L28 9M112 37L118 21M22 88L30 78M31 32L39 26M110 19L116 8M43 42L53 34M62 35L65 24" stroke="#8a382e" stroke-width="3.0" opacity="0.6"/><path d="M106 101L105 92M91 50L93 32M63 41L65 26M50 75L56 69M69 7L73 -10M49 19L63 5M87 28L92 18M-11 43L3 31M112 43L118 22" stroke="#a04838" stroke-width="2.0" opacity="0.8"/><path d="M77 18L78 -7M7 42L19 28M17 97L35 87M35 22L44 7M45 54L62 42" stroke="#a04838" stroke-width="2.0" opacity="0.6"/><path d="M72 87L75 76M38 67L51 54M86 99L93 79M64 107L72 90M66 46L69 39M37 51L43 43M1 2L9 -6M102 105L110 91M105 79L110 71" stroke="#6a2220" stroke-width="1.5" opacity="0.8"/><path d="M110 27L120 4M47 99L64 83M82 20L84 12M92 65L95 46M28 39L37 29M15 18L21 12M-7 14L10 -2M14 87L23 81" stroke="#8a382e" stroke-width="2.5" opacity="0.6"/><path d="M-0 5L17 -7M103 77L113 57M53 60L62 48M95 46L99 26M63 64L71 42M-4 61L11 52M104 75L109 63M114 92L117 84" stroke="#b8604a" stroke-width="2.0" opacity="0.8"/><path d="M74 70L83 48" stroke="#6a2220" stroke-width="1.0" opacity="0.6"/><path d="M48 5L56 -2M69 48L74 32M105 30L111 6M51 54L59 41M85 71L95 56M75 87L79 79M112 77L114 56" stroke="#b8604a" stroke-width="2.5" opacity="0.8"/><path d="M-0 17L14 1M-10 41L8 24" stroke="#ac5442" stroke-width="2.5" opacity="0.6"/><path d="M30 12L47 -4M72 7L76 -7M1 100L16 80M87 64L95 44M-5 11L13 0M109 82L113 73M-3 24L7 11M62 18L72 -3" stroke="#7a2a24" stroke-width="3.0" opacity="0.8"/><path d="M72 44L78 26M72 50L78 33M35 33L49 20M-1 77L6 72" stroke="#ac5442" stroke-width="1.5" opacity="0.6"/><path d="M2 31L18 13M99 68L102 50M37 30L46 20M78 10L82 -3M86 87L95 66M-1 38L18 24M66 17L70 7M62 17L73 -3M114 48L123 27" stroke="#6a2220" stroke-width="2.5" opacity="0.6"/><path d="M98 14L106 -6M114 77L120 66M46 22L61 14M45 33L61 18M108 89L112 71M80 92L87 71M49 89L61 75M112 43L117 28M104 69L109 60" stroke="#7a2a24" stroke-width="2.0" opacity="0.6"/><path d="M-11 100L6 89M51 71L64 63M20 97L36 82M25 21L31 9M26 96L36 79M94 83L96 66M77 35L84 18M42 36L49 30M119 27L126 5M100 19L112 -3" stroke="#8a382e" stroke-width="1.5" opacity="0.6"/><path d="M29 69L38 62M89 95L94 85M36 41L47 31M67 32L68 12M28 68L43 53M9 103L20 94M117 13L125 0" stroke="#a04838" stroke-width="2.5" opacity="0.6"/><path d="M112 53L116 41M112 9L115 1M2 99L14 89M18 42L28 33M70 93L78 84" stroke="#6a2220" stroke-width="2.0" opacity="0.8"/><path d="M109 93L115 80M116 73L122 57M-10 52L3 36M104 42L109 25M101 7L108 -11M80 78L88 58M87 25L91 13" stroke="#ac5442" stroke-width="3.0" opacity="0.6"/><path d="M9 34L16 29M4 73L17 61M112 82L115 73M16 7L25 -2M66 102L71 81" stroke="#b8604a" stroke-width="3.0" opacity="0.6"/><path d="M80 31L84 17M93 15L99 1M-1 35L9 26M22 69L33 59" stroke="#6a2220" stroke-width="3.0" opacity="0.6"/><path d="M7 45L18 40M72 94L75 84M89 7L95 -8M72 54L77 44M75 95L84 79M29 46L41 38M63 83L67 73M42 22L50 15" stroke="#a04838" stroke-width="3.0" opacity="0.8"/><path d="M3 12L17 1M96 99L98 87M14 60L31 43M6 53L26 44M88 20L94 9M-10 45L4 28M0 64L13 42M74 7L82 -5M-3 16L11 -2M45 41L56 28M9 42L17 34" stroke="#6a2220" stroke-width="3.0" opacity="0.8"/><path d="M17 82L31 70M76 3L80 -11M64 56L74 38M101 35L104 14M115 55L117 47M105 20L107 11M17 30L29 20M112 60L116 38" stroke="#ac5442" stroke-width="2.0" opacity="0.8"/><path d="M17 90L23 84M98 40L99 26M25 92L33 82M71 6L79 -14M9 57L18 50" stroke="#ac5442" stroke-width="2.5" opacity="0.8"/><path d="M111 14L115 2M109 102L111 94" stroke="#8a382e" stroke-width="3.0" opacity="0.8"/><path d="M62 89L66 66M15 42L26 33M-13 95L4 81M21 77L35 62M49 13L56 5M109 5L114 -7M93 44L100 26M10 98L16 89" stroke="#b8604a" stroke-width="2.0" opacity="0.6"/><path d="M43 9L57 -11M73 29L77 18" stroke="#8a382e" stroke-width="1.5" opacity="0.8"/><path d="M85 92L90 73M110 105L115 81M64 11L65 2M99 73L102 53" stroke="#8a382e" stroke-width="2.5" opacity="0.8"/><path d="M117 58L121 41" stroke="#ac5442" stroke-width="1.0" opacity="0.6"/><path d="M79 35L87 22M-8 55L4 42M110 104L108 85M55 100L61 87M51 62L63 42" stroke="#ac5442" stroke-width="2.0" opacity="0.6"/><path d="M68 94L71 73M100 78L110 56" stroke="#8a382e" stroke-width="1.0" opacity="0.8"/><path d="M82 19L84 10" stroke="#7a2a24" stroke-width="1.0" opacity="0.8"/><path d="M31 51L43 36M60 55L65 43M-12 26L5 8M2 95L20 77M114 82L126 69" stroke="#7a2a24" stroke-width="2.5" opacity="0.6"/><path d="M25 99L35 91M-4 11L3 2M114 22L120 4M9 97L20 87M70 27L73 18M101 9L103 -6M63 63L64 53" stroke="#a04838" stroke-width="2.5" opacity="0.8"/><path d="M72 78L76 66M29 64L44 52M27 64L38 54M79 20L86 -1M34 60L48 51" stroke="#8a382e" stroke-width="2.0" opacity="0.8"/><path d="M102 82L118 63M49 26L64 8M81 12L86 -5M102 28L110 11M20 27L29 18" stroke="#7a2a24" stroke-width="3.0" opacity="0.6"/><path d="M5 90L15 80M111 16L114 -7M102 100L105 79M-2 28L14 9M60 82L63 62M54 55L62 37M70 29L75 17M14 21L35 8M0 51L12 45M84 41L86 31M11 97L18 91" stroke="#a04838" stroke-width="1.5" opacity="0.6"/><path d="M101 48L105 30M19 62L33 48M-11 37L6 20M80 7L84 -9M36 66L47 57" stroke="#b8604a" stroke-width="1.5" opacity="0.8"/><path d="M108 13L113 -6M97 33L104 17M81 61L87 45M26 79L44 60M32 25L47 10" stroke="#a04838" stroke-width="1.5" opacity="0.8"/><path d="M24 16L43 6M84 42L89 23M34 91L44 85M103 10L111 -5M19 27L34 8M109 53L114 32" stroke="#7a2a24" stroke-width="2.5" opacity="0.8"/><path d="M16 38L23 31M-6 75L10 66M10 30L17 25M36 9L52 -4M66 5L72 -6M32 21L50 10M0 41L13 25M27 25L38 18" stroke="#b8604a" stroke-width="3.0" opacity="0.8"/><path d="M121 72L125 65M57 74L61 50M63 84L66 59" stroke="#6a2220" stroke-width="1.5" opacity="0.6"/><path d="M62 34L71 11M59 8L67 -9M109 90L114 67M107 98L113 75M43 88L56 81" stroke="#b8604a" stroke-width="2.5" opacity="0.6"/><path d="M-7 4L7 -9M35 74L42 65" stroke="#ac5442" stroke-width="1.0" opacity="0.8"/><path d="M13 9L22 3M57 99L61 79" stroke="#b8604a" stroke-width="1.5" opacity="0.6"/><path d="M36 5L57 -5" stroke="#a04838" stroke-width="1.0" opacity="0.6"/><path d="M113 65L125 42" stroke="#8a382e" stroke-width="1.0" opacity="0.6"/><path d="M80 104L80 88" stroke="#a04838" stroke-width="1.0" opacity="0.8"/><path d="M109 24L108 18M85 31L93 26M71 25L74 17M40 71L46 66M87 15L88 10M56 78L59 75M54 42L61 40M115 62L118 57M69 71L70 68M50 84L51 79M81 49L82 40" stroke="#6a62aa" stroke-width="1.5" opacity="0.6"/><path d="M91 33L97 28M95 92L95 86M36 60L32 54M110 83L112 78M99 76L107 71M86 85L89 77M62 29L63 20M85 47L91 40M12 29L16 27M83 61L83 56M88 25L91 18M11 37L14 31" stroke="#6a62aa" stroke-width="2.0" opacity="0.6"/><path d="M67 58L69 51M111 62L112 55M86 56L90 52M35 64L40 61M-5 29L2 22M-4 31L4 33M37 69L38 62M64 25L67 18M28 67L36 65M81 6L83 -1M71 39L75 35M111 99L111 93M62 2L65 -2M86 67L86 60M16 60L23 55" stroke="#3a3c88" stroke-width="2.0" opacity="0.6"/><path d="M93 55L97 47M77 5L83 3M47 57L54 55M88 25L90 19M75 15L82 9M74 60L80 56M38 65L45 58M79 85L84 80M79 21L81 18M97 71L101 70M77 48L78 44M90 45L94 38M72 51L72 48M41 75L47 70M91 37L92 31M18 34L18 29" stroke="#3a3c88" stroke-width="1.5" opacity="0.6"/><path d="M91 18L86 18M68 9L71 4M15 19L14 15M101 23L99 17M90 43L88 39M102 76L102 68M74 91L76 86M46 66L49 64M52 50L58 50" stroke="#50407e" stroke-width="2.0" opacity="0.6"/><path d="M45 70L49 64M35 62L38 60M54 68L56 64M73 22L75 13M66 43L66 39M90 68L92 63M83 16L86 13M21 -1L24 -2M86 20L86 16M103 26L107 23M66 34L67 26M51 70L56 65M55 43L58 40M70 35L75 30M51 49L54 45M35 68L38 65M87 13L89 10" stroke="#4a4a9c" stroke-width="1.5" opacity="0.6"/><path d="M61 38L61 31M83 23L92 20M97 99L98 92M93 47L92 44M64 45L69 39" stroke="#50407e" stroke-width="1.0" opacity="0.6"/><path d="M96 79L98 75M95 3L97 -0M102 81L102 74M5 40L11 33M-0 37L6 37M82 36L83 32M12 45L14 36M83 1L86 -3" stroke="#4a4a9c" stroke-width="2.5" opacity="0.6"/><path d="M93 32L93 29M94 88L96 85M46 64L45 58M103 36L104 32M97 83L101 78M90 17L92 9M38 66L41 59M28 60L32 59M95 17L97 13M47 65L54 59M-5 36L3 37M64 19L63 15M92 99L94 89M56 79L57 72M0 39L3 35" stroke="#4a4a9c" stroke-width="2.0" opacity="0.6"/><path d="M-3 17L4 15M81 22L80 15M80 6L81 1M78 50L78 45M87 74L91 69M45 76L46 72M86 4L86 -5M50 19L55 17" stroke="#6a62aa" stroke-width="2.5" opacity="0.6"/><path d="M43 73L45 71M33 71L39 73M8 44L14 38M83 27L78 21" stroke="#6a62aa" stroke-width="1.0" opacity="0.6"/><path d="M71 44L74 34M85 47L89 40M44 54L49 53M34 87L36 83M63 22L63 17M84 54L88 45M30 56L34 49M36 90L36 85M85 76L88 69M101 96L100 88M-0 88L3 84M57 56L60 47M38 73L45 70" stroke="#50407e" stroke-width="2.5" opacity="0.6"/><path d="M5 62L12 57M-2 46L3 44M70 25L69 17M102 83L103 79M40 45L39 42M101 77L107 75M50 77L52 73M12 42L15 39" stroke="#3a3c88" stroke-width="1.0" opacity="0.6"/><path d="M93 26L94 23M41 90L44 86M21 86L26 81M58 38L66 37M61 51L65 48" stroke="#4a4a9c" stroke-width="1.0" opacity="0.6"/><path d="M108 42L109 32M80 51L82 46M61 70L59 63M39 72L42 70M50 83L54 77M52 73L59 71M103 26L103 21M24 71L27 69" stroke="#50407e" stroke-width="1.5" opacity="0.6"/><path d="M91 81L87 75M71 38L77 33M77 57L75 52M60 37L65 38M70 52L75 44M78 25L79 22" stroke="#3a3c88" stroke-width="2.5" opacity="0.6"/><path d="M93 22L95 16M91 88L91 80M104 49L112 34M85 25L85 18M23 39L30 32M107 14L110 -1M72 38L78 25M34 59L41 54M88 45L93 29M111 26L115 19M92 48L98 35M61 79L65 67M93 78L96 66M91 24L98 12M38 48L51 38M65 99L72 86M1 32L11 21M22 94L30 84M93 62L96 57M56 57L61 49M96 31L99 16M1 70L11 64M46 48L54 42M91 49L92 40M76 85L82 77M96 80L102 65M71 37L76 25M109 82L112 71M80 87L84 76M44 52L56 38M75 95L81 84M37 90L44 83M91 30L93 21M88 28L91 17M73 37L75 29M-6 61L0 56M27 90L33 85M85 62L87 53M50 47L61 39M111 34L114 18M91 87L93 73M50 88L57 74M114 8L125 -5M49 25L54 22M109 9L113 -0M61 98L64 92" stroke="#f4f0f2" stroke-width="0.5" opacity="0.8"/><path d="M38 71L45 63M54 41L59 37M19 57L28 48M98 21L105 5M82 3L89 -8M72 49L69 34M77 99L78 86M-1 102L13 92M94 28L99 16M110 22L113 11M83 58L83 49M103 44L109 28M114 18L118 12M100 39L106 27M113 15L113 -1M102 36L106 24M90 36L94 26M21 100L33 92M92 3L94 -5M117 37L122 26M110 62L113 50M-7 86L9 83M93 14L101 2M42 54L50 40M114 44L121 34M88 44L93 31M117 9L124 -6M89 57L93 50" stroke="#f4f0f2" stroke-width="1.0" opacity="1.0"/><path d="M18 78L23 72M84 41L88 32M87 51L88 41M101 32L107 23M77 62L82 45M63 82L67 71M49 87L54 81M109 100L113 88M67 72L70 60M19 35L27 29M33 14L42 6M58 96L63 86M65 86L65 77M91 18L95 1M6 15L17 7M57 93L60 82M1 41L7 34M28 74L36 65M87 82L88 75M110 21L110 6M91 22L93 14M49 97L56 91M107 56L108 41M36 67L40 60M11 2L17 -2M94 23L98 15" stroke="#f4f0f2" stroke-width="1.0" opacity="0.6"/><path d="M97 36L101 29M66 57L67 48M65 79L69 67M32 51L37 44M96 76L99 67M37 24L42 20" stroke="#f4f0f2" stroke-width="0.5" opacity="1.0"/><path d="M96 6L98 -7M86 24L92 14M52 80L62 67M84 2L85 -5M36 50L42 43" stroke="#f4f0f2" stroke-width="1.5" opacity="1.0"/><path d="M-5 79L2 72M110 21L113 10M102 42L103 32M83 84L92 73M99 10L101 -7M93 50L96 44M53 99L58 91M65 93L67 84M116 27L121 10M116 90L121 83M91 45L95 29M82 56L84 50M94 71L102 58M2 6L14 -1M88 13L94 -1M106 6L108 -6M32 85L41 79M101 9L105 -6M39 37L49 31M71 14L74 4M98 28L104 15M91 35L95 23M56 80L63 64M107 33L110 23M116 4L116 -6M83 97L86 83M107 18L115 4M84 80L88 66M15 54L23 50M82 16L85 8M83 9L86 2M97 44L103 35M111 96L113 81M85 67L90 59M94 29L98 19M103 15L109 7M25 93L32 82M27 87L37 77M79 52L79 40M35 69L49 64M90 16L95 7M52 76L57 69M72 78L76 70M96 15L101 2M113 33L115 27M78 61L82 48M96 22L96 15M86 13L89 5M56 53L60 44M89 43L91 31M53 84L57 78M99 31L102 25M78 93L80 85M107 14L108 7M71 92L73 80M67 87L66 78M91 65L93 57M118 22L120 14M47 79L56 69M36 45L51 36M87 83L90 72M62 92L64 81M55 63L61 52M110 45L115 36M38 96L52 91M67 11L75 -1M12 24L25 14M101 5L103 -2M110 36L113 26M88 47L90 36M58 82L60 64M32 45L38 44M105 14L114 0M113 46L116 30M95 36L100 21M86 58L93 45M104 26L110 16M66 30L69 15M105 37L107 23M102 83L108 72M74 73L76 65M109 100L112 94M112 43L116 35M87 32L91 24M63 90L69 75M113 38L113 30" stroke="#f4f0f2" stroke-width="1.0" opacity="0.8"/><path d="M26 30L33 25M82 39L82 27M62 25L66 13M116 85L121 72M64 97L69 81M101 22L109 6M111 85L113 69M107 39L110 28M113 31L117 25M89 28L98 17M70 28L73 18M118 21L121 12M63 89L68 72M59 20L63 4M65 39L66 21M109 3L110 -4M113 11L117 5M35 30L45 24M80 46L83 40M105 40L106 30M52 51L61 46M75 83L79 75M103 22L109 7M69 42L72 27M75 23L79 13M97 62L100 50M51 61L63 54M1 71L12 57M82 49L86 42M89 90L95 78M59 47L62 33" stroke="#f4f0f2" stroke-width="1.5" opacity="0.8"/><path d="M8 73L14 69M104 19L108 11M105 15L114 1M67 66L69 57M87 37L90 22M103 31L105 25M108 6L111 -8" stroke="#f4f0f2" stroke-width="0.5" opacity="0.6"/><path d="M42 59L54 51M97 35L100 28M88 84L90 69M99 6L104 -10M116 24L118 18" stroke="#f4f0f2" stroke-width="1.5" opacity="0.6"/></g><path d="M66 46 C70 40 78 42 84 50 C90 58 90 68 86 70 C80 72 72 62 68 56 C66 52 65 49 66 46 Z" fill="#eee8f0" filter="url(#bl11)"/><path d="M70 46 C74 43 80 46 84 53 C88 60 88 66 85 67 C81 68 75 60 72 55 C70 52 69 48 70 46 Z" fill="#1c2058"/><path d="M76 52 C79 53 82 57 83 61 C82 63 79 60 77 57 Z" fill="#4a2e50"/></svg>
<svg class="r" style="left:916px;top:236.4px" width="119" height="94" viewBox="0 0 119 94"><defs><filter id="bl23" x="-5%" y="-5%" width="110%" height="110%"><feGaussianBlur stdDeviation="0.7"/></filter></defs><rect width="119" height="94" fill="#7c2c2c"/><g stroke-linecap="round" fill="none" filter="url(#bl23)"><path d="M106 89L122 98M92 78L97 85M88 91L96 68M12 66L16 48M91 14L94 -8M28 23L50 12M41 40L56 43M32 31L40 24M40 92L49 95" stroke="#7a2a28" stroke-width="2.0" opacity="0.6"/><path d="M85 21L92 25M97 83L102 65M11 4L26 -6M91 87L96 72M-14 80L9 72M49 69L56 65M98 33L102 18M69 59L73 36M76 62L82 49M103 29L111 33M50 63L69 73" stroke="#5e1e22" stroke-width="2.0" opacity="0.6"/><path d="M-2 76L14 62M26 52L27 43M51 27L72 24M-0 14L7 8M7 39L24 28M-10 10L2 2" stroke="#a04a3a" stroke-width="2.5" opacity="0.6"/><path d="M-5 36L4 31" stroke="#8e3a32" stroke-width="3.0" opacity="0.6"/><path d="M86 32L100 35M23 102L32 86M28 93L38 78M72 101L91 87M31 94L43 103M114 93L131 78M19 23L39 11M84 33L90 9M77 7L87 10" stroke="#6e2424" stroke-width="3.0" opacity="0.6"/><path d="M47 79L67 76M103 106L105 90M10 20L25 10M52 55L64 68M103 10L116 -4M71 58L92 70M13 46L30 38M51 62L74 65" stroke="#8e3a32" stroke-width="1.5" opacity="0.6"/><path d="M32 82L41 77M32 82L34 73M17 15L35 -0M61 80L66 67" stroke="#6e2424" stroke-width="2.5" opacity="0.8"/><path d="M27 59L35 54M37 43L53 34M117 2L124 8M84 54L97 61M89 7L99 17M70 11L89 23M13 79L25 79M121 76L124 67M65 61L76 69M27 39L44 26" stroke="#a04a3a" stroke-width="2.5" opacity="0.8"/><path d="M49 19L58 16M88 2L104 21M9 99L19 84M16 33L36 19M94 31L108 37M89 75L99 72" stroke="#7a2a28" stroke-width="1.5" opacity="0.8"/><path d="M109 68L118 45M36 97L53 78M116 73L119 49M41 78L50 68M37 63L58 65M3 45L19 53M-8 27L11 10" stroke="#8e3a32" stroke-width="2.0" opacity="0.6"/><path d="M75 40L78 32M57 37L73 23M112 13L122 19M112 20L119 7M37 82L43 74M53 103L74 91M115 39L123 22M-7 14L3 3" stroke="#8e3a32" stroke-width="3.0" opacity="0.8"/><path d="M56 91L73 105" stroke="#a04a3a" stroke-width="1.0" opacity="0.8"/><path d="M49 -7L67 5M32 77L45 56M85 53L102 55M13 43L23 38M-4 103L-1 80M63 11L69 17M93 62L114 62M41 45L51 44" stroke="#7a2a28" stroke-width="3.0" opacity="0.6"/><path d="M3 48L13 52M12 30L21 24M26 57L32 34M115 70L130 80M-11 63L4 71M120 50L120 26" stroke="#5e1e22" stroke-width="2.5" opacity="0.6"/><path d="M-1 16L17 9M32 11L43 7M15 34L26 28M48 96L65 89M32 31L52 20M-9 52L10 38M95 84L98 68M16 94L25 91M80 0L97 8M97 61L102 48M67 85L87 69M106 11L115 16M7 42L22 52" stroke="#7a2a28" stroke-width="3.0" opacity="0.8"/><path d="M82 48L86 28M100 9L116 23M102 86L109 66M-6 7L5 -1M35 52L38 40M83 58L105 62M14 97L38 93" stroke="#9a4436" stroke-width="2.5" opacity="0.8"/><path d="M47 23L53 29M-7 13L13 1M99 72L99 64M21 4L26 -3M44 60L61 53M96 5L104 -12M-7 11L10 -4M13 54L24 51M117 105L117 86M38 23L62 18" stroke="#a04a3a" stroke-width="1.5" opacity="0.8"/><path d="M36 64L40 42M82 69L91 60M18 44L25 50M38 4L52 -14M23 32L37 23M7 25L15 17M86 19L108 12M118 2L120 -8M40 80L63 83" stroke="#8e3a32" stroke-width="1.5" opacity="0.8"/><path d="M27 3L50 -8M38 70L49 72M31 61L30 42M40 63L47 49M93 86L106 81M32 30L48 19M52 80L56 70M15 21L34 5M89 86L92 77M95 20L112 30" stroke="#9a4436" stroke-width="3.0" opacity="0.6"/><path d="M78 13L88 13M108 16L117 12M18 67L29 45M75 13L83 10M97 94L101 84M90 36L109 25M-13 39L4 26M114 7L121 -13M3 54L16 61M36 2L50 -9M109 43L134 50M-9 105L7 91M43 42L64 49M24 44L46 32" stroke="#9a4436" stroke-width="2.0" opacity="0.8"/><path d="M122 75L124 64M76 74L97 76M84 75L87 67M72 97L90 100M119 21L119 1M89 76L105 66M84 57L91 52" stroke="#5e1e22" stroke-width="2.0" opacity="0.8"/><path d="M-5 87L17 85M104 27L119 39M102 15L105 2M-4 44L15 50M31 27L41 17M25 45L40 46M84 38L88 21M9 33L16 27M53 24L67 24" stroke="#9a4436" stroke-width="2.0" opacity="0.6"/><path d="M77 47L89 28M44 2L65 13M0 84L24 80M50 94L64 82M35 48L51 46M82 77L105 88M17 53L26 54M2 85L14 69M-5 58L10 43" stroke="#a04a3a" stroke-width="3.0" opacity="0.6"/><path d="M33 16L51 4M-4 1L10 -8M9 69L25 77M-10 60L10 70M60 75L81 86" stroke="#7a2a28" stroke-width="2.5" opacity="0.6"/><path d="M114 54L131 66M66 89L77 95M12 53L31 55M68 77L75 80M67 79L78 73M89 37L100 24M44 38L51 44M-6 5L8 -8" stroke="#5e1e22" stroke-width="1.5" opacity="0.8"/><path d="M80 84L102 98M88 14L100 7M72 23L92 17M65 -2L83 -0M58 41L75 55" stroke="#9a4436" stroke-width="1.5" opacity="0.6"/><path d="M66 35L76 41M18 87L17 64M71 93L83 88M16 78L20 70" stroke="#a04a3a" stroke-width="1.5" opacity="0.6"/><path d="M96 37L105 36M70 33L85 21M45 56L56 53M41 36L65 40M51 88L61 75" stroke="#5e1e22" stroke-width="2.5" opacity="0.8"/><path d="M-11 56L1 66M3 70L23 69M11 52L12 38M95 82L108 66M105 12L122 25M75 22L75 10" stroke="#a04a3a" stroke-width="3.0" opacity="0.8"/><path d="M104 18L119 4M-1 91L19 107M49 56L71 64M102 40L108 34M32 68L35 57M61 21L66 4M-3 89L7 70M61 12L60 -11M80 17L93 1" stroke="#6e2424" stroke-width="2.5" opacity="0.6"/><path d="M-14 15L9 5M84 83L98 63M-8 72L6 87M-0 -1L13 -9M117 10L127 -6M64 35L84 25" stroke="#5e1e22" stroke-width="3.0" opacity="0.6"/><path d="M100 -1L110 8M114 32L122 38M49 0L61 3M29 59L41 72M99 37L104 45M114 18L131 31" stroke="#9a4436" stroke-width="2.5" opacity="0.6"/><path d="M98 76L108 70M41 17L59 18M79 28L92 27M110 54L133 43M44 11L52 15M91 23L99 27M55 80L63 81M17 51L35 42" stroke="#8e3a32" stroke-width="2.0" opacity="0.8"/><path d="M99 93L99 71M45 62L61 66M-9 14L13 4M80 94L87 78M83 45L100 36M31 79L44 89" stroke="#6e2424" stroke-width="2.0" opacity="0.6"/><path d="M42 7L63 -6M-2 101L20 95M75 56L77 32M46 58L63 46M23 54L43 48M113 91L124 94M4 68L6 59M113 5L121 -10M43 84L53 63M77 17L101 17" stroke="#a04a3a" stroke-width="2.0" opacity="0.6"/><path d="M80 75L92 55M71 28L95 31M103 44L114 32M119 74L122 55M48 56L54 42M47 70L56 67" stroke="#6e2424" stroke-width="2.0" opacity="0.8"/><path d="M102 73L118 80M65 61L82 67M37 -0L44 -6M13 96L30 87M5 67L23 50M70 79L78 89" stroke="#9a4436" stroke-width="3.0" opacity="0.8"/><path d="M78 89L84 78M54 32L64 23M2 42L11 33" stroke="#6e2424" stroke-width="1.0" opacity="0.8"/><path d="M13 78L15 64M14 -0L32 -8M20 49L28 57M9 20L27 7M46 3L63 15M4 88L11 66M120 37L126 19M-1 79L17 76M23 92L40 82" stroke="#5e1e22" stroke-width="1.5" opacity="0.6"/><path d="M13 65L19 58M106 20L117 16M-13 13L7 2M16 66L17 45M81 71L95 76M25 66L41 81M89 40L101 41M52 24L56 -0" stroke="#7a2a28" stroke-width="2.5" opacity="0.8"/><path d="M51 59L64 62" stroke="#8e3a32" stroke-width="1.0" opacity="0.6"/><path d="M-8 21L5 9M119 70L122 62M1 17L15 8M76 32L97 45" stroke="#8e3a32" stroke-width="2.5" opacity="0.8"/><path d="M67 4L79 10M45 64L54 62M105 49L123 58M101 39L117 35M43 34L56 47M100 33L113 42M103 76L118 89" stroke="#7a2a28" stroke-width="1.5" opacity="0.6"/><path d="M23 92L28 75" stroke="#9a4436" stroke-width="1.0" opacity="0.6"/><path d="M51 56L59 38M48 -8L61 -1M-7 83L-3 73M14 50L29 38M66 55L74 52M32 77L44 91M25 71L45 88" stroke="#8e3a32" stroke-width="2.5" opacity="0.6"/><path d="M15 14L29 5M116 38L132 21M118 27L123 18M79 11L98 11M97 96L106 96M-4 26L9 20M57 17L66 -3M9 52L21 52" stroke="#a04a3a" stroke-width="2.0" opacity="0.8"/><path d="M-7 28L1 24M32 54L51 55M22 18L33 9M-10 23L3 13M11 88L26 85M65 55L68 46M70 30L87 46M103 51L115 62" stroke="#7a2a28" stroke-width="2.0" opacity="0.8"/><path d="M79 -8L100 -1M50 5L67 20M57 83L67 91M116 70L117 53M43 73L65 84" stroke="#6e2424" stroke-width="1.5" opacity="0.8"/><path d="M112 15L129 25M86 37L106 53M74 46L80 26M101 69L111 67M74 50L86 49M110 47L119 46M38 69L51 58" stroke="#5e1e22" stroke-width="3.0" opacity="0.8"/><path d="M21 22L42 13M-7 97L12 96M71 53L85 50" stroke="#6e2424" stroke-width="3.0" opacity="0.8"/><path d="M0 -0L11 -8M104 27L110 15M31 9L42 5" stroke="#7a2a28" stroke-width="1.0" opacity="0.6"/><path d="M36 67L50 62M51 98L58 91M61 21L66 3M65 53L75 54M97 107L100 85M101 1L110 3" stroke="#9a4436" stroke-width="1.5" opacity="0.8"/><path d="M61 11L68 18M50 44L63 54M10 66L24 77M116 22L118 3" stroke="#6e2424" stroke-width="1.5" opacity="0.6"/><path d="M107 20L119 20M96 33L112 47" stroke="#7a2a28" stroke-width="1.0" opacity="0.8"/><path d="M29 49L46 63" stroke="#6e2424" stroke-width="1.0" opacity="0.6"/><path d="M68 58L71 40" stroke="#9a4436" stroke-width="1.0" opacity="0.8"/><path d="M78 50L82 47M51 53L51 46M53 15L54 7M74 45L79 40M86 67L87 63M29 75L38 74M53 81L56 87M24 0L27 -6M106 69L113 65M86 49L94 48M117 37L116 28M96 25L101 24M74 58L78 55M40 95L44 97" stroke="#50407e" stroke-width="2.5" opacity="0.6"/><path d="M23 64L27 69M100 39L109 41M60 55L65 51M83 34L84 30M42 19L45 16M44 34L45 31M19 41L23 35M107 17L104 8M30 11L36 5M21 34L24 32M79 5L82 2M58 68L59 63M94 52L101 52M70 43L75 39M47 86L55 88M64 36L71 40M65 87L70 86M70 82L78 87" stroke="#6a62aa" stroke-width="2.0" opacity="0.6"/><path d="M36 62L38 59M110 74L119 70M102 55L109 62M21 75L22 69M63 57L70 56M45 70L44 67M34 57L35 54M61 43L68 38M93 19L101 17M43 76L48 78M54 -3L60 3M39 66L47 68M28 17L36 16M63 36L66 28M85 39L92 34M60 8L63 2M111 28L116 35M65 64L69 62M75 55L83 52M117 -1L118 -4M29 80L33 86" stroke="#4a4a9c" stroke-width="2.0" opacity="0.6"/><path d="M51 59L53 51M33 1L32 -5M65 66L72 59M90 21L93 15M113 1L119 -4M45 84L50 75M91 37L98 32M-4 60L3 60M78 14L85 7M76 18L81 16M32 71L38 71" stroke="#4a4a9c" stroke-width="1.5" opacity="0.6"/><path d="M30 96L37 96M57 78L63 82M32 12L34 8M71 73L80 74M2 78L-1 72M64 34L66 29M105 16L111 18M76 17L81 17M21 37L25 34M38 68L45 68M22 83L30 87" stroke="#4a4a9c" stroke-width="2.5" opacity="0.6"/><path d="M102 33L101 28M117 6L120 8M107 6L112 8M36 83L42 78M87 33L94 29M25 18L35 17M77 25L79 22M73 53L77 50M67 36L59 30M110 16L117 22M37 77L38 70M46 78L43 72M75 37L83 42M100 11L105 16M118 9L119 1M72 19L76 25M63 16L68 14M73 61L76 64M38 73L46 77" stroke="#3a3c88" stroke-width="1.5" opacity="0.6"/><path d="M86 54L86 49M28 72L35 76M35 15L44 14M96 92L99 92M51 44L56 45M16 68L25 67M44 50L45 45M42 76L49 82M69 83L72 89M97 17L104 16M53 55L58 58M0 3L2 -3M20 7L23 -2M22 9L27 6M49 88L55 82M23 94L25 90M26 77L28 80M106 23L106 19M41 32L43 28M-3 47L1 45" stroke="#6a62aa" stroke-width="1.5" opacity="0.6"/><path d="M45 57L52 56M36 24L40 20M42 14L45 14M21 78L27 83M43 70L46 66M96 51L101 53M61 36L64 32M75 46L79 48M44 40L48 48M40 17L46 14M76 60L77 56M85 23L79 14M73 31L81 32M37 97L40 97M70 28L74 25M76 71L78 77M50 92L59 87M100 88L107 91M10 80L13 78M76 29L79 27M99 37L98 28M58 27L55 22M100 18L106 12" stroke="#50407e" stroke-width="2.0" opacity="0.6"/><path d="M37 98L41 91M33 92L38 91M63 45L67 53M50 68L49 61M113 59L113 54M41 65L43 62M62 62L69 61M80 40L82 38M17 73L18 66M81 60L80 51" stroke="#6a62aa" stroke-width="2.5" opacity="0.6"/><path d="M80 72L86 72M71 22L77 15M60 29L62 33M17 43L22 38M31 77L35 74M100 27L101 24M107 82L114 76M85 8L88 4M8 80L16 86" stroke="#50407e" stroke-width="1.0" opacity="0.6"/><path d="M40 79L43 78M47 29L55 34M26 55L31 55M82 61L82 58M54 57L57 49M32 66L37 68M57 46L63 42M33 18L36 9M108 33L116 30M72 95L79 98M46 47L49 50M60 34L63 32M50 32L54 27M24 12L30 8M66 70L68 61M30 80L33 81M107 77L113 77M86 14L90 16" stroke="#50407e" stroke-width="1.5" opacity="0.6"/><path d="M61 51L67 44M68 15L73 15M64 13L72 13M99 29L101 25M46 8L50 8M58 53L62 54M98 51L102 44M52 16L61 14M66 24L74 22M47 80L49 86M89 45L96 51" stroke="#6a62aa" stroke-width="1.0" opacity="0.6"/><path d="M43 55L49 50M72 77L73 74M39 53L40 49M59 21L64 29M32 77L34 86M81 61L87 54M48 69L48 62M38 60L39 66M82 29L89 27" stroke="#3a3c88" stroke-width="1.0" opacity="0.6"/><path d="M82 86L83 77M25 98L30 95M32 75L38 73M98 78L98 72M63 59L64 50M74 54L78 55" stroke="#3a3c88" stroke-width="2.5" opacity="0.6"/><path d="M64 93L66 84M80 15L85 16M89 6L93 6M40 59L45 58M36 76L42 75M41 32L49 38M39 67L42 67M71 34L73 30M117 1L121 -7M45 81L52 82" stroke="#3a3c88" stroke-width="2.0" opacity="0.6"/><path d="M14 38L22 34M89 15L95 10M101 15L107 12M81 35L85 36M90 12L92 8M45 75L48 73M104 29L109 29M37 67L45 70M82 20L83 16M83 28L86 21" stroke="#4a4a9c" stroke-width="1.0" opacity="0.6"/><path d="M103 89L103 81M-3 78L-2 75M116 41L120 45M71 11L74 10M4 71L8 68M27 7L31 4M46 19L51 21M100 13L102 15M40 54L41 48M54 98L57 91M43 10L48 9" stroke="#f4f0f2" stroke-width="1.0" opacity="1.0"/><path d="M34 71L36 65M8 3L14 1M5 80L9 72M119 39L124 37M101 79L107 84M9 69L11 72M116 15L120 10M6 82L9 81M103 46L107 47M12 69L12 63M64 14L68 15M42 11L45 9M69 12L75 9M105 80L107 74M24 57L31 54M100 3L105 9M4 26L9 23M45 12L50 14M85 74L85 69M89 42L92 44M118 56L119 50M15 30L21 26M8 89L11 94M7 5L14 0M74 13L81 13M1 52L8 55M3 67L5 62M81 1L81 -4M65 47L69 43M19 61L22 64M89 25L92 24M60 10L62 6M33 93L37 90M114 14L121 14M71 35L72 31M39 87L45 84M4 81L5 76M72 9L74 0M52 5L56 2M64 9L71 14M109 -1L111 -5M23 39L29 34M44 13L48 13M89 50L92 45M70 35L71 32M99 11L106 15M46 63L51 63M59 56L61 54M77 29L84 33M64 38L70 41M105 46L108 38M30 45L33 49M60 58L69 57M30 31L33 29M47 3L50 0M62 42L66 41M25 63L31 66M25 26L28 24M50 68L57 65M64 18L72 21M47 37L54 41M2 74L8 77M37 45L42 40M79 74L83 72M55 34L60 29M109 9L112 8M7 33L11 29M28 80L34 83M89 6L97 9M101 34L104 35M56 19L59 21" stroke="#f4f0f2" stroke-width="1.0" opacity="0.8"/><path d="M-3 41L1 40M21 20L25 16M103 22L111 25M17 5L23 0M33 55L39 61M74 32L79 30M54 19L58 22M72 39L76 35M113 87L114 84M61 70L66 63M54 23L55 16M77 38L84 37M79 84L88 85M35 24L43 21M41 58L42 54M26 92L31 93M121 13L122 5M82 31L88 37" stroke="#f4f0f2" stroke-width="1.0" opacity="0.6"/><path d="M119 -3L122 -0M87 16L92 11M70 28L73 31M72 14L75 16M61 92L67 88M28 8L34 4M57 38L60 33" stroke="#f4f0f2" stroke-width="0.5" opacity="1.0"/><path d="M86 74L88 67M104 34L104 25M28 61L30 57M62 76L69 73M0 61L6 60M75 24L78 25M8 44L13 42M52 72L53 66M32 38L35 35" stroke="#f4f0f2" stroke-width="0.5" opacity="0.6"/><path d="M-6 57L1 61M55 40L61 37M117 99L117 92M94 17L98 16M113 27L117 25M77 82L83 80M99 81L105 84M11 64L19 60M23 36L27 34M82 81L84 78M66 87L71 87M43 37L47 38M30 0L35 -3M15 59L17 56M106 57L115 57M49 14L53 12M101 19L103 12M7 86L10 81M22 33L26 30M101 49L101 42M21 35L28 30M114 22L115 19M30 40L36 36M115 31L119 31M9 59L16 62M20 1L25 -2M15 84L20 87M5 52L6 47M26 25L29 24M72 -3L77 1" stroke="#f4f0f2" stroke-width="0.5" opacity="0.8"/><path d="M10 75L13 76M80 36L82 31" stroke="#f4f0f2" stroke-width="1.5" opacity="0.6"/><path d="M4 95L9 96M92 33L94 36M23 40L28 35M36 19L43 15M1 23L8 17M91 6L94 -0M54 73L59 70M114 90L119 93M-0 78L2 70M46 29L46 22M22 85L30 86M61 50L64 47M25 87L25 80M96 16L98 11M78 33L85 37M105 11L108 11M110 12L114 13M54 -1L57 1M70 7L74 10M62 20L66 23M-4 66L-0 59" stroke="#f4f0f2" stroke-width="1.5" opacity="0.8"/><path d="M3 16L8 11" stroke="#f4f0f2" stroke-width="1.5" opacity="1.0"/></g><path d="M0 46 C8 47 16 49 22 53 C30 60 34 70 40 76 C46 82 52 88 60 94 L48 94 C42 88 34 82 26 74 C20 68 14 62 8 61 C4 61 2 62 0 63 Z" fill="#f2f0f4"/><path d="M0 45 C10 46 18 49 24 54 C31 61 35 70 42 77 C48 83 56 89 64 94" stroke="#3646a8" stroke-width="2.2" fill="none"/><path d="M0 64 C6 62 14 64 20 70 C26 76 34 86 42 94" stroke="#3646a8" stroke-width="1.6" fill="none"/><g filter="url(#bl23)" opacity="0.7"><path d="M50 10 C56 18 54 28 62 34 C70 40 78 36 86 44 C92 50 98 48 106 52" stroke="#3a48a0" stroke-width="2.6" fill="none"/><path d="M64 8 C70 14 76 24 90 22 C100 20 108 26 119 24" stroke="#3a48a0" stroke-width="2.2" fill="none"/><path d="M30 20 C36 30 46 36 50 48" stroke="#3a48a0" stroke-width="2" fill="none"/><path d="M84 54 C90 60 96 58 104 64" stroke="#3a48a0" stroke-width="2.5" fill="none"/></g><ellipse cx="89" cy="13" rx="2.5" ry="4" fill="#f4f2f4"/><ellipse cx="80" cy="51" rx="3" ry="2" fill="#eeeaf0"/></svg>
<svg class="r" style="left:778px;top:335.1px" width="118" height="95" viewBox="0 0 118 95"><defs><filter id="bl37" x="-5%" y="-5%" width="110%" height="110%"><feGaussianBlur stdDeviation="0.7"/></filter></defs><rect width="118" height="95" fill="#94402f"/><g stroke-linecap="round" fill="none" filter="url(#bl37)"><path d="M71 4L94 5M-8 75L12 87M10 57L26 62M105 14L112 18" stroke="#ac5442" stroke-width="1.5" opacity="0.8"/><path d="M39 74L63 81M85 -4L106 -1M44 91L54 95M5 14L14 21M24 23L37 29M22 90L33 102M51 14L70 20M-3 75L10 79M40 -8L63 0" stroke="#8a382e" stroke-width="2.5" opacity="0.6"/><path d="M31 70L56 74M-3 88L12 100M-2 -1L12 5M25 22L32 26M51 -6L75 2M58 5L82 7M90 35L109 41" stroke="#7a2a24" stroke-width="1.5" opacity="0.6"/><path d="M24 27L40 39M82 22L103 28M61 11L74 16M29 -8L48 1M-8 0L17 7M84 -4L95 -1M115 26L130 31M6 26L20 34" stroke="#ac5442" stroke-width="2.5" opacity="0.8"/><path d="M61 -3L76 0" stroke="#7a2a24" stroke-width="1.0" opacity="0.8"/><path d="M36 66L47 72M97 40L121 40M50 77L61 86M37 27L47 33M-1 19L16 29M71 75L88 81M10 69L18 74M41 43L57 47M115 33L129 38" stroke="#b8604a" stroke-width="2.0" opacity="0.6"/><path d="M95 68L115 75M-7 24L10 37M4 65L25 70M-2 53L9 61M51 -6L65 3" stroke="#6a2220" stroke-width="1.5" opacity="0.8"/><path d="M28 -3L39 2M91 17L100 16M47 17L64 29M85 60L103 64M42 61L62 71M4 74L15 81M82 2L97 5M9 86L19 92M9 21L29 33M5 12L24 21M39 84L48 88" stroke="#a04838" stroke-width="2.0" opacity="0.6"/><path d="M70 -0L78 1M64 42L73 46M96 92L106 95" stroke="#6a2220" stroke-width="1.5" opacity="0.6"/><path d="M7 29L16 34M109 10L121 11M59 45L73 49M98 95L106 96M-3 82L15 92M28 -3L44 7M19 -3L40 7M76 62L95 69M-3 51L11 56M93 51L104 56M10 32L21 38M90 2L105 11M107 2L115 5M4 85L15 92M103 95L120 100" stroke="#a04838" stroke-width="1.5" opacity="0.6"/><path d="M51 18L69 23M1 9L18 16M85 62L99 69M1 83L19 94M39 24L55 32M51 44L61 49M81 20L94 22" stroke="#ac5442" stroke-width="3.0" opacity="0.6"/><path d="M25 49L36 59M61 10L73 15M18 83L28 86M19 35L37 43M36 -3L49 6M71 57L79 59M55 66L63 71M63 43L80 49" stroke="#b8604a" stroke-width="1.5" opacity="0.6"/><path d="M30 14L40 21M11 25L21 31M49 -7L64 0M31 52L42 58M92 60L107 63M24 86L40 98" stroke="#8a382e" stroke-width="3.0" opacity="0.8"/><path d="M29 47L49 59M-9 68L6 78M113 2L130 8M71 4L84 4M32 36L52 42M89 29L108 38M-5 46L5 49M25 7L47 11M74 56L93 61" stroke="#6a2220" stroke-width="3.0" opacity="0.8"/><path d="M91 59L115 65M78 93L103 95M105 87L127 92M28 70L51 80M13 -6L33 6" stroke="#ac5442" stroke-width="2.0" opacity="0.6"/><path d="M61 40L80 44M52 97L73 102M78 52L86 54M13 11L27 16M73 77L86 83M107 18L119 27" stroke="#a04838" stroke-width="3.0" opacity="0.8"/><path d="M107 80L122 88M48 12L58 16M44 12L55 20M84 76L93 76M8 1L26 9M45 3L66 11M33 4L50 12M71 67L80 72" stroke="#7a2a24" stroke-width="3.0" opacity="0.8"/><path d="M-12 70L13 74M42 88L56 91M23 40L40 55M85 33L106 35M-4 43L7 49M39 69L60 83M11 22L35 31M1 48L16 52" stroke="#ac5442" stroke-width="2.5" opacity="0.6"/><path d="M-8 7L3 7M21 43L32 50M114 71L123 72M15 49L37 59M12 19L29 30M96 33L111 38M34 21L52 28M8 13L23 22M40 87L64 98M107 20L124 23M117 47L127 52M36 16L60 26" stroke="#6a2220" stroke-width="2.0" opacity="0.8"/><path d="M74 1L87 4M17 55L30 59M2 63L12 69M101 14L111 15M42 64L62 73M101 2L109 6M108 -0L129 4M-4 65L5 69M26 79L40 84M56 87L74 92" stroke="#8a382e" stroke-width="1.5" opacity="0.8"/><path d="M18 7L35 18M6 20L17 26M71 32L83 39M72 -7L92 -2M-11 72L12 82M97 47L113 52" stroke="#b8604a" stroke-width="2.5" opacity="0.6"/><path d="M67 63L76 64M12 36L35 46M100 77L124 76M49 10L72 15M94 86L110 89M36 14L45 19M56 24L77 29M72 5L87 8M89 75L102 78M9 30L29 39M48 81L64 90" stroke="#6a2220" stroke-width="2.5" opacity="0.6"/><path d="M49 92L68 98M64 92L74 97M50 51L70 61M34 10L46 20M107 -2L132 2M109 73L130 84" stroke="#ac5442" stroke-width="1.5" opacity="0.6"/><path d="M11 91L22 99M28 21L48 35M102 35L122 43M-4 49L3 53" stroke="#8a382e" stroke-width="3.0" opacity="0.6"/><path d="M40 67L47 74M37 23L58 36M7 31L19 37" stroke="#b8604a" stroke-width="3.0" opacity="0.8"/><path d="M72 -2L85 1M57 39L66 45M33 14L48 31M91 53L116 58M79 10L97 15M26 4L44 14M113 93L123 96M85 34L93 37M96 21L107 25M89 95L101 98M107 43L121 46M26 -8L49 3M94 91L114 97" stroke="#7a2a24" stroke-width="2.5" opacity="0.8"/><path d="M97 30L117 39M64 21L79 28M32 85L50 92M109 47L124 54M82 36L91 38M89 87L102 89M87 65L105 67M90 70L111 74M7 83L16 89" stroke="#6a2220" stroke-width="3.0" opacity="0.6"/><path d="M67 12L87 16" stroke="#6a2220" stroke-width="1.0" opacity="0.6"/><path d="M45 -3L67 9M43 42L53 47M43 95L53 101M105 14L117 17M30 47L43 56M81 36L91 41M4 37L12 40M33 73L45 78M34 -1L48 8" stroke="#7a2a24" stroke-width="2.5" opacity="0.6"/><path d="M87 16L105 20M42 61L51 66M108 48L129 55M51 32L65 40M70 56L81 59" stroke="#b8604a" stroke-width="1.5" opacity="0.8"/><path d="M41 96L53 103M22 19L44 31M38 -5L54 4M116 80L129 88" stroke="#b8604a" stroke-width="2.5" opacity="0.8"/><path d="M87 49L106 60M73 56L94 58M43 18L66 27M10 15L26 25M34 5L44 12" stroke="#7a2a24" stroke-width="2.0" opacity="0.8"/><path d="M51 -4L67 2M96 30L110 36M108 37L125 41M78 96L87 101M37 28L53 35M-15 84L8 91M38 -0L46 4" stroke="#a04838" stroke-width="2.0" opacity="0.8"/><path d="M3 63L20 66M21 39L40 48M71 58L93 61M85 64L96 65" stroke="#6a2220" stroke-width="2.0" opacity="0.6"/><path d="M37 83L49 94M106 9L130 9M3 77L27 87M73 94L86 98" stroke="#b8604a" stroke-width="3.0" opacity="0.6"/><path d="M-1 56L16 64M14 66L21 73M-9 53L13 61M-5 13L14 19M81 51L96 58M88 38L106 42" stroke="#8a382e" stroke-width="1.5" opacity="0.6"/><path d="M112 26L125 34M23 20L43 30M87 73L111 78M91 36L102 42M6 63L23 74M-10 31L5 37M76 16L92 22" stroke="#a04838" stroke-width="3.0" opacity="0.6"/><path d="M74 4L89 5M14 63L34 78" stroke="#ac5442" stroke-width="1.0" opacity="0.6"/><path d="M-4 9L8 15M81 -4L94 -2" stroke="#8a382e" stroke-width="2.0" opacity="0.8"/><path d="M73 25L81 28M77 93L101 98M25 35L43 46M104 16L122 21M104 7L122 9M-3 63L19 74M36 -9L54 7M61 0L79 6M13 79L29 90" stroke="#ac5442" stroke-width="2.0" opacity="0.8"/><path d="M100 26L117 31M87 2L103 8M8 73L28 85M79 20L94 23M98 23L118 29M105 96L122 99" stroke="#8a382e" stroke-width="2.0" opacity="0.6"/><path d="M41 24L56 35M111 40L134 48M-11 92L10 102M109 81L119 83" stroke="#a04838" stroke-width="1.5" opacity="0.8"/><path d="M11 84L29 101" stroke="#a04838" stroke-width="1.0" opacity="0.6"/><path d="M36 23L57 35M67 -2L90 8M40 31L59 38" stroke="#a04838" stroke-width="2.5" opacity="0.6"/><path d="M34 83L53 92M6 52L16 58M95 41L104 45M78 63L95 67M98 26L113 26M22 40L41 49M34 86L48 93" stroke="#7a2a24" stroke-width="2.0" opacity="0.6"/><path d="M42 -3L67 5" stroke="#ac5442" stroke-width="1.0" opacity="0.8"/><path d="M73 51L85 51M29 89L41 96M44 68L57 75M33 66L42 71" stroke="#a04838" stroke-width="2.5" opacity="0.8"/><path d="M50 6L73 13M104 90L119 98M73 27L90 31" stroke="#b8604a" stroke-width="2.0" opacity="0.8"/><path d="M111 33L133 37M108 -0L124 7" stroke="#a04838" stroke-width="1.0" opacity="0.8"/><path d="M48 8L67 15M-5 94L12 102M44 13L59 26M29 62L50 66M81 63L96 64M91 48L110 51M35 49L42 55M-0 5L10 8" stroke="#7a2a24" stroke-width="1.5" opacity="0.8"/><path d="M108 2L120 9M7 74L22 77" stroke="#8a382e" stroke-width="2.5" opacity="0.8"/><path d="M95 14L106 18M-6 95L4 101M-11 -8L10 3" stroke="#ac5442" stroke-width="3.0" opacity="0.8"/><path d="M60 1L74 10M26 50L38 53M54 77L67 79" stroke="#6a2220" stroke-width="2.5" opacity="0.8"/><path d="M71 37L83 40M-15 57L7 65" stroke="#7a2a24" stroke-width="3.0" opacity="0.6"/><path d="M-4 14L17 26M57 81L73 87" stroke="#b8604a" stroke-width="1.0" opacity="0.8"/><path d="M87 -7L111 1" stroke="#8a382e" stroke-width="1.0" opacity="0.6"/><g filter="url(#bl37)"><path d="M68 66 C74 62 82 66 86 74 C88 82 84 90 76 90 C70 88 66 80 68 66 Z" fill="#2a2e7c" opacity="0.85"/><path d="M4 60 C8 56 12 60 12 66 C10 72 6 74 4 70 Z" fill="#3a4090" opacity="0.7"/></g><path d="M63 83L71 84M-7 70L3 69M36 -1L40 2M70 78L75 77M31 29L37 32M-3 7L6 10M26 77L32 78M55 75L64 78M8 44L13 52M89 64L95 70M43 22L51 22M26 3L30 11M73 70L77 75M27 7L31 10M45 10L53 9M29 81L35 81M112 66L116 67M44 83L50 86" stroke="#4a4a9c" stroke-width="1.5" opacity="0.6"/><path d="M53 6L56 11M64 85L73 86M33 73L42 73M32 2L35 4" stroke="#6a62aa" stroke-width="2.0" opacity="0.6"/><path d="M71 10L74 12M58 77L64 85M65 90L72 91M76 30L80 35M13 68L19 72M57 18L63 23M42 4L51 4M87 -1L90 -0M87 23L89 25M25 78L29 80M6 54L15 57M70 28L75 27M43 16L48 24M48 80L53 82" stroke="#50407e" stroke-width="2.0" opacity="0.6"/><path d="M57 69L60 68M66 3L70 3M18 63L27 67M40 -3L42 -1M36 11L40 10M52 19L56 23M54 73L59 78M53 -3L59 -0M38 81L41 83M62 72L70 71M87 34L91 36M29 67L34 69M48 15L53 18M-2 36L0 40" stroke="#50407e" stroke-width="2.5" opacity="0.6"/><path d="M23 84L25 88M43 -1L50 -2M61 13L66 18M51 40L60 44M74 81L80 81M56 78L62 86M66 12L69 8M9 59L15 62M76 53L84 51M66 71L71 73M22 89L29 91M46 10L53 17M64 8L73 6" stroke="#3a3c88" stroke-width="2.0" opacity="0.6"/><path d="M3 48L12 50M80 35L82 36M7 46L7 55M5 53L10 55M58 81L64 77M-2 52L2 55M75 65L80 68M63 81L71 85M90 25L96 26M36 -5L42 -0M11 61L18 62M65 72L69 73" stroke="#50407e" stroke-width="1.0" opacity="0.6"/><path d="M83 25L92 28M32 19L37 20M22 71L30 69M89 55L94 56M76 82L82 87M71 -3L80 -3M48 16L51 18M49 11L52 19M59 68L64 70M64 81L70 82" stroke="#3a3c88" stroke-width="1.5" opacity="0.6"/><path d="M6 44L13 49M80 86L82 88M45 36L51 38M50 88L54 89M27 60L32 57M78 34L88 30" stroke="#3a3c88" stroke-width="1.0" opacity="0.6"/><path d="M93 48L100 51M46 -1L46 4M94 49L100 48M31 86L39 84M31 2L34 7" stroke="#6a62aa" stroke-width="2.5" opacity="0.6"/><path d="M18 10L27 12M75 14L82 20M102 54L109 59M38 83L41 84M38 79L41 82M72 77L81 80M68 29L74 31M12 52L17 54M29 14L33 13M24 82L31 87M31 -1L31 5M51 16L59 16M66 69L75 74M59 93L66 95M98 82L101 83M16 45L20 47M86 41L94 42M72 22L75 25M34 5L38 9" stroke="#6a62aa" stroke-width="1.5" opacity="0.6"/><path d="M22 28L26 31M44 66L47 71M66 87L72 89M65 84L74 79M43 36L52 35M61 66L68 64M35 26L41 27M88 56L92 55M36 0L40 1M92 2L96 1" stroke="#3a3c88" stroke-width="2.5" opacity="0.6"/><path d="M76 46L85 50M102 63L106 70M24 68L32 68M27 72L29 81M99 49L106 49" stroke="#4a4a9c" stroke-width="1.0" opacity="0.6"/><path d="M34 78L38 84M97 43L102 43M55 2L58 11M102 55L107 60M27 81L35 75M118 44L121 46M72 7L78 9M48 13L51 14" stroke="#4a4a9c" stroke-width="2.0" opacity="0.6"/><path d="M60 11L67 9M36 13L40 13M62 83L64 86M39 82L44 86M26 4L35 2M112 58L118 61M39 22L42 22M95 57L101 56" stroke="#6a62aa" stroke-width="1.0" opacity="0.6"/><path d="M103 15L109 17M34 3L38 5M22 17L29 21M44 16L47 17M86 29L93 24M81 78L88 83M85 47L89 49M95 47L102 47M-1 51L2 54M48 54L54 55M76 44L85 40" stroke="#50407e" stroke-width="1.5" opacity="0.6"/><path d="M52 12L57 15M52 90L55 89M37 10L39 13" stroke="#4a4a9c" stroke-width="2.5" opacity="0.6"/><path d="M16 50L32 66M43 61L61 68M68 60L84 69M9 58L26 65M59 80L76 84M36 34L45 37M43 -1L59 8" stroke="#f4f0f2" stroke-width="0.5" opacity="1.0"/><path d="M95 91L115 99M82 68L101 72M23 38L41 45M49 78L66 89M4 -8L15 3M-5 32L13 38M34 32L46 36M102 16L110 17M73 14L84 16M24 25L37 29M72 64L86 67M61 93L76 100M70 69L88 74M82 80L96 83M28 64L41 78M103 94L123 99M81 89L90 97M10 -0L25 3M25 26L34 31M65 50L84 55M25 -1L39 0M3 94L11 97M12 76L30 84M43 88L60 100M111 76L126 88M81 81L97 86M99 88L115 89M46 24L59 40M29 12L44 26M5 77L19 87M94 37L103 39M35 5L52 12M77 19L99 23M20 30L32 34M4 15L17 22M112 16L124 18M33 22L48 34M22 36L40 45" stroke="#f4f0f2" stroke-width="1.5" opacity="0.8"/><path d="M96 5L105 7M32 49L45 58M73 57L87 60M104 2L119 4M78 54L95 58M3 85L10 90M13 67L25 78M89 9L110 10M43 33L51 36M37 64L51 75M81 59L95 67M16 96L26 99M56 72L71 76M64 42L82 50M86 86L107 88M97 46L111 45M111 93L129 100" stroke="#f4f0f2" stroke-width="0.5" opacity="0.8"/><path d="M109 21L118 25M43 45L63 54M25 -6L44 2M107 84L122 88M12 46L26 55M87 77L102 80M-11 98L7 98M29 39L46 47M36 21L54 32M59 52L70 57M89 18L101 23M50 94L66 101M39 17L44 22M66 62L82 66M45 63L53 68M37 51L47 56M47 39L67 45M94 52L110 56M23 90L33 98M8 60L19 63M40 30L47 34M98 75L117 76M81 80L93 84M66 27L76 33M72 64L87 65M21 46L38 51M109 72L117 75M30 69L45 80M54 69L65 75M54 11L73 22M16 88L34 95M34 2L47 11M75 47L92 54M97 33L106 39M51 40L62 47M-10 60L9 67M30 -4L44 2M41 37L56 49M84 49L95 52M10 84L20 93M29 46L44 50M63 12L73 15M24 21L43 29M69 17L80 21M111 53L123 57M102 52L113 54M65 24L77 30M6 68L16 73M46 44L63 50M36 79L47 95M42 47L56 59M74 44L95 44M-6 70L13 73" stroke="#f4f0f2" stroke-width="1.0" opacity="0.8"/><path d="M114 39L121 43M41 67L58 80M1 86L8 91M106 38L125 43M30 43L47 51M93 8L103 13M31 48L45 54M89 4L101 12M87 68L102 76M40 58L56 67M6 -4L21 5" stroke="#f4f0f2" stroke-width="1.5" opacity="1.0"/><path d="M55 40L76 48M11 30L19 34M9 21L25 30M49 81L58 86M56 46L74 53M100 -1L118 4M65 63L84 69M71 78L88 77M26 32L40 37M1 27L15 34M54 61L63 65M17 4L30 12M111 38L131 35M76 72L95 79" stroke="#f4f0f2" stroke-width="1.5" opacity="0.6"/><path d="M24 74L39 87M57 28L74 36M13 53L30 63M62 27L81 33M16 -5L29 4M69 45L86 56M64 30L79 32M20 10L31 15M67 60L77 63M103 82L124 80M3 44L15 54M48 44L56 49M99 91L120 96" stroke="#f4f0f2" stroke-width="1.0" opacity="1.0"/><path d="M57 23L66 26M42 7L53 14M97 16L110 20M81 72L91 75M110 39L119 41M81 -5L90 -0M86 28L101 29M19 33L33 40M43 78L59 83M30 10L43 15M90 38L99 38M52 41L66 47M36 -9L49 4M14 65L23 70" stroke="#f4f0f2" stroke-width="1.0" opacity="0.6"/><path d="M103 27L112 29M-5 44L13 51M52 23L65 27" stroke="#f4f0f2" stroke-width="0.5" opacity="0.6"/></g><g filter="url(#bl37)"><path d="M0 0 H118 V6 C110 7 104 6 98 9 C90 12 82 9 72 12 C62 15 52 12 44 14 C36 16 30 10 22 9 C14 8 8 12 0 16 Z" fill="#f6f4f6"/><path d="M20 12 C32 16 46 14 58 13 C70 12 80 10 90 9 C100 8 108 8 118 7" stroke="#4a5ab0" stroke-width="2.2" fill="none"/><path d="M86 60 C94 56 104 58 112 62 C116 70 114 78 108 82 C100 84 92 80 88 74 C85 70 84 64 86 60 Z" fill="#f6f4f6"/><path d="M0 76 C8 74 14 82 20 90 L24 95 H0 Z" fill="#f6f4f6"/><path d="M106 92 C110 88 116 89 118 92 V95 H104 Z" fill="#f6f4f6"/></g></svg>
<svg class="r" style="left:916px;top:335.1px" width="119" height="95" viewBox="0 0 119 95"><defs><filter id="bl51" x="-5%" y="-5%" width="110%" height="110%"><feGaussianBlur stdDeviation="0.7"/></filter></defs><rect width="119" height="95" fill="#8e3c34"/><g stroke-linecap="round" fill="none" filter="url(#bl51)"><path d="M25 42L28 54M120 70L125 93M57 45L63 63M22 8L31 29M117 38L126 51M41 69L55 90M25 82L36 103M94 55L99 67M69 88L76 109" stroke="#a44c38" stroke-width="1.5" opacity="0.8"/><path d="M63 34L68 54M18 82L28 104M-1 83L4 93M74 61L81 76M118 62L118 85M119 6L127 21M3 90L8 100M79 64L88 87M17 18L25 41M77 54L82 72" stroke="#a44c38" stroke-width="2.5" opacity="0.8"/><path d="M33 91L50 108M14 -11L19 5M25 19L29 32M12 32L18 44M101 80L110 98" stroke="#7a2a24" stroke-width="2.5" opacity="0.6"/><path d="M81 87L84 101M71 52L77 59M10 28L18 39M88 49L97 62" stroke="#c8704c" stroke-width="2.0" opacity="0.8"/><path d="M112 68L117 82M51 44L57 53M21 85L25 95M19 47L27 60M95 -0L104 22" stroke="#b05a3e" stroke-width="2.0" opacity="0.8"/><path d="M110 83L124 103M61 46L67 69M21 76L34 92M41 61L47 74M16 74L29 91M110 31L118 50M21 22L30 41M88 -12L103 7M102 76L115 97" stroke="#c8704c" stroke-width="1.5" opacity="0.8"/><path d="M61 8L71 19M-9 65L3 88M19 80L28 101M14 57L20 78M119 46L127 65M115 65L124 84M17 54L27 75M99 73L104 80M25 94L25 103M92 88L97 96M97 -6L106 9" stroke="#8a382e" stroke-width="2.0" opacity="0.8"/><path d="M49 -7L54 -0M89 -12L100 3M51 33L59 56M36 91L39 103M87 1L94 16M75 46L84 60" stroke="#8a382e" stroke-width="3.0" opacity="0.8"/><path d="M60 39L69 60M19 33L25 43M100 26L113 43M37 2L44 23M28 65L37 82" stroke="#a44c38" stroke-width="3.0" opacity="0.8"/><path d="M-4 30L1 48M-2 36L6 50M72 79L83 98M2 49L7 56M-7 6L2 25M76 -2L80 11M95 86L107 107M34 68L37 78M81 -6L88 9" stroke="#a44c38" stroke-width="3.0" opacity="0.6"/><path d="M109 36L115 52M113 72L117 94M38 2L47 24M39 59L53 78M-4 17L1 25M83 24L92 40M77 87L90 106M40 20L46 34M79 3L84 15M57 29L63 43M-6 -13L3 9M52 50L55 60" stroke="#a44c38" stroke-width="1.5" opacity="0.6"/><path d="M60 77L71 99M-2 22L3 29M37 65L41 75M92 10L99 31M92 67L96 78M23 21L27 30" stroke="#b05a3e" stroke-width="1.5" opacity="0.6"/><path d="M113 -13L124 5M9 63L18 86M85 53L93 62M61 43L65 54M56 7L67 27M7 5L13 21" stroke="#a44c38" stroke-width="2.0" opacity="0.8"/><path d="M112 48L123 63M105 74L115 91M18 72L23 82M-7 31L-2 40M64 58L73 71" stroke="#8a382e" stroke-width="2.5" opacity="0.6"/><path d="M43 20L47 38M28 -10L33 2M6 28L18 48M42 72L53 90M4 57L10 72M82 10L93 31M-1 21L3 35M3 17L14 39M36 53L40 70M62 60L64 68M24 3L28 11M103 -4L106 13" stroke="#5e2024" stroke-width="3.0" opacity="0.6"/><path d="M95 16L103 29M30 34L39 51M75 61L87 76M2 3L11 20M89 17L90 34M90 -2L98 17" stroke="#a44c38" stroke-width="2.0" opacity="0.6"/><path d="M25 81L36 104M100 4L110 27M79 60L83 68M-5 4L3 17M51 13L61 30" stroke="#7a2a24" stroke-width="2.5" opacity="0.8"/><path d="M105 47L112 59M59 73L66 96M70 80L75 101M76 -12L82 2M40 7L49 27M30 -7L39 17M111 87L121 105M96 50L108 66" stroke="#c8704c" stroke-width="1.5" opacity="0.6"/><path d="M58 78L62 88M103 15L111 37M29 28L37 50M19 78L29 91M94 57L105 76M78 28L84 44M31 46L39 61M103 -5L112 11" stroke="#7a2a24" stroke-width="3.0" opacity="0.8"/><path d="M87 -12L90 5M54 4L67 21M9 44L16 67M-9 53L0 73M59 -3L73 18" stroke="#5e2024" stroke-width="2.5" opacity="0.6"/><path d="M102 48L110 64M97 20L101 32M39 90L47 101M84 45L88 53" stroke="#8a382e" stroke-width="2.0" opacity="0.6"/><path d="M45 9L58 28M50 -1L52 7M3 52L7 62M5 25L22 42M83 59L93 81M35 60L43 80M59 65L62 74M95 73L102 87M83 2L89 11" stroke="#8a382e" stroke-width="1.5" opacity="0.8"/><path d="M54 44L61 60M15 35L23 55M52 42L59 64M110 64L122 82M106 -7L120 9M65 20L73 38M61 84L67 92" stroke="#7a2a24" stroke-width="1.5" opacity="0.8"/><path d="M3 34L11 55" stroke="#a44c38" stroke-width="1.0" opacity="0.6"/><path d="M32 82L43 103M106 13L110 36M-7 37L1 49M62 1L67 22M78 61L87 78M0 15L8 30M20 -9L27 8M117 67L121 81" stroke="#5e2024" stroke-width="2.0" opacity="0.6"/><path d="M93 63L104 83M98 55L108 72M88 41L93 48M69 8L72 18M79 12L89 20M88 79L92 96M101 76L104 87M-9 81L5 102M21 48L29 65" stroke="#c8704c" stroke-width="2.5" opacity="0.6"/><path d="M69 38L79 57M35 84L41 95M109 45L114 54M99 86L102 95" stroke="#7a2a24" stroke-width="1.5" opacity="0.6"/><path d="M20 64L29 87M0 24L7 41M82 47L87 65M99 16L103 29" stroke="#b05a3e" stroke-width="3.0" opacity="0.8"/><path d="M114 66L118 78M69 64L74 81M37 78L49 101M101 36L108 53M4 -13L16 5M22 80L34 100M42 10L49 29" stroke="#c8704c" stroke-width="3.0" opacity="0.8"/><path d="M19 33L23 48M70 -9L80 2M14 3L19 24M-5 -12L-0 3M116 12L126 35M-3 68L1 80" stroke="#5e2024" stroke-width="3.0" opacity="0.8"/><path d="M32 18L37 31M57 85L64 101M-4 13L5 26M16 90L19 100" stroke="#7a2a24" stroke-width="3.0" opacity="0.6"/><path d="M54 -10L59 2M63 68L70 92M5 49L11 66M20 36L30 52M70 14L82 33M36 45L41 61M106 -10L114 2M53 -10L59 0" stroke="#b05a3e" stroke-width="3.0" opacity="0.6"/><path d="M-2 -2L9 15M88 64L94 85M-8 51L1 70M64 15L71 27M101 36L106 46M34 34L36 43M4 49L13 69M20 75L27 90M1 -13L10 5M79 72L85 85" stroke="#c8704c" stroke-width="2.0" opacity="0.6"/><path d="M7 5L15 22M-9 60L3 80M18 51L26 63M17 12L23 27" stroke="#5e2024" stroke-width="1.5" opacity="0.6"/><path d="M13 34L28 54M48 41L53 60M16 52L28 74M73 66L78 78M17 51L22 61M44 42L48 49" stroke="#b05a3e" stroke-width="2.0" opacity="0.6"/><path d="M51 17L58 29M29 34L38 42M118 13L122 31M86 4L91 16M32 58L37 76M88 49L100 69" stroke="#c8704c" stroke-width="3.0" opacity="0.6"/><path d="M46 -8L55 4M-2 90L5 103M26 86L29 95M18 39L26 57M92 13L98 33M75 60L84 75M18 -5L22 2M44 30L48 38M25 84L35 95M11 46L17 56M88 77L93 88" stroke="#b05a3e" stroke-width="1.5" opacity="0.8"/><path d="M13 67L22 79M81 36L89 52M46 -12L52 3M44 71L55 90M64 35L69 59M68 34L81 55M7 19L10 27" stroke="#5e2024" stroke-width="1.5" opacity="0.8"/><path d="M84 35L92 43M10 12L14 21M-5 -0L4 14M28 7L33 25M88 76L92 84M26 92L37 108M114 87L127 104M85 76L95 92M79 82L83 96M34 17L41 33" stroke="#8a382e" stroke-width="1.5" opacity="0.6"/><path d="M82 -7L97 13M115 31L128 52M98 72L101 83M101 41L111 56M24 1L29 10M21 45L21 53" stroke="#a44c38" stroke-width="2.5" opacity="0.6"/><path d="M30 2L43 21M4 52L14 64M18 53L22 64M10 24L15 36M45 47L50 55M0 80L13 100M64 3L72 18M31 21L40 35" stroke="#b05a3e" stroke-width="2.5" opacity="0.6"/><path d="M32 57L40 69M25 63L30 77M-8 37L0 56M119 44L126 63" stroke="#7a2a24" stroke-width="2.0" opacity="0.8"/><path d="M4 71L9 80M103 71L106 82M27 53L30 64M32 77L35 87M50 1L53 10M65 -5L72 8M72 66L82 88M120 71L127 78M114 70L116 80M25 70L32 80M72 -16L80 6" stroke="#8a382e" stroke-width="2.5" opacity="0.8"/><path d="M57 83L65 101M58 11L70 23M86 41L95 61M-4 41L5 59M109 44L119 59M117 85L123 96M31 30L43 48" stroke="#c8704c" stroke-width="2.5" opacity="0.8"/><path d="M103 80L111 104" stroke="#c8704c" stroke-width="1.0" opacity="0.6"/><path d="M61 28L68 42M34 44L42 64M0 82L12 102M47 45L50 68M72 8L75 18" stroke="#8a382e" stroke-width="3.0" opacity="0.6"/><path d="M14 -3L21 9" stroke="#8a382e" stroke-width="1.0" opacity="0.8"/><path d="M64 73L70 81M54 86L67 108M76 74L91 93M116 -9L129 11M80 22L91 39M75 22L83 33M78 7L81 17M94 -9L102 3" stroke="#5e2024" stroke-width="2.0" opacity="0.8"/><path d="M21 54L34 76M105 15L114 34M35 47L40 54M31 80L37 92M23 71L29 95M47 45L54 61M56 59L61 67" stroke="#7a2a24" stroke-width="2.0" opacity="0.6"/><path d="M72 23L76 33M31 23L36 33M115 85L124 102M55 49L59 60" stroke="#5e2024" stroke-width="2.5" opacity="0.8"/><path d="M26 94L30 101M38 69L46 80" stroke="#5e2024" stroke-width="1.0" opacity="0.6"/><path d="M110 19L120 34M71 3L80 24M64 27L73 47M77 62L93 79" stroke="#b05a3e" stroke-width="2.5" opacity="0.8"/><path d="M75 15L86 37" stroke="#7a2a24" stroke-width="1.0" opacity="0.6"/><g filter="url(#bl51)"><path d="M40 58 C50 54 62 60 72 70 C80 78 82 88 80 95 H36 C34 84 34 66 40 58 Z" fill="#3a3a94" opacity="0.75"/><path d="M52 70 C58 72 64 80 66 95 H50 C48 84 48 74 52 70 Z" fill="#262a7a" opacity="0.8"/><path d="M0 30 C6 34 12 44 14 60 C14 70 10 76 4 72 C0 68 0 50 0 30 Z" fill="#3a2a78" opacity="0.6"/><path d="M26 20 C32 24 38 34 40 46 C36 48 30 40 26 30 Z" fill="#4a3a8a" opacity="0.6"/><path d="M72 34 C78 40 80 50 76 56 C72 50 70 42 72 34 Z" fill="#f4f2f6"/></g><path d="M48 81L59 90M45 45L51 57M52 89L55 93M29 67L30 75M42 33L41 45M49 64L48 70M60 60L62 71M50 76L58 84M41 78L44 90M29 18L36 25M5 59L6 62M51 72L55 85M64 75L71 83M34 58L37 61M47 63L54 70M39 82L41 87M69 57L70 67M61 71L72 77M55 94L63 100M-1 82L-1 87M55 68L58 72" stroke="#4a4a9c" stroke-width="2.0" opacity="0.6"/><path d="M47 46L52 58M61 72L67 83M71 78L72 82M68 13L70 19M49 56L53 62M66 84L72 95M-1 65L2 72M43 44L42 50M112 75L112 82M41 30L36 39M9 40L9 46M44 27L51 32M53 83L61 93M54 72L56 78M89 53L90 60M77 57L79 66M42 81L47 89M26 25L31 31M96 4L95 16" stroke="#3a3c88" stroke-width="1.5" opacity="0.6"/><path d="M65 78L67 87M37 50L44 52M92 2L98 8M7 31L7 36M57 68L64 70M45 50L47 54M1 43L4 55M58 70L65 78M60 42L59 46" stroke="#50407e" stroke-width="1.0" opacity="0.6"/><path d="M62 63L62 76M50 84L53 91M44 63L43 77M110 17L114 22M76 41L73 50M59 -2L63 1M98 32L97 41M27 33L26 38M48 78L45 91M76 25L83 32M119 67L123 71" stroke="#3a3c88" stroke-width="2.0" opacity="0.6"/><path d="M94 48L96 58M76 20L81 23M113 49L118 58M98 84L96 89M67 19L70 22M95 62L95 67M76 49L86 57M0 29L4 38M98 54L105 58M26 85L34 94M56 54L60 60" stroke="#6a62aa" stroke-width="2.5" opacity="0.6"/><path d="M95 50L94 60M33 48L39 58M82 75L88 87M73 77L77 84M46 29L50 32M3 19L1 28M78 7L75 15M37 23L45 32M20 31L19 38M10 27L17 36M20 54L23 60M38 53L34 66M10 39L11 45" stroke="#4a4a9c" stroke-width="1.5" opacity="0.6"/><path d="M93 40L99 51M77 87L78 91M29 50L28 62M81 -1L84 8M61 78L65 82M45 85L51 97M11 52L13 62M77 63L85 73M99 -5L101 -1" stroke="#50407e" stroke-width="1.5" opacity="0.6"/><path d="M1 40L14 45M59 80L59 93M73 79L76 83M56 75L62 82M45 66L52 70M28 48L35 51M1 86L10 95M63 43L61 46" stroke="#4a4a9c" stroke-width="1.0" opacity="0.6"/><path d="M15 53L20 66M17 47L18 53M25 54L35 55M106 26L107 36M114 75L122 80M90 -7L89 4M92 47L93 57M115 31L113 42M1 29L3 37M74 20L83 27M83 45L91 56M122 36L119 45" stroke="#3a3c88" stroke-width="2.5" opacity="0.6"/><path d="M28 22L27 35M64 82L56 87M35 19L29 28M103 43L106 54M66 82L69 93M12 16L15 24M2 27L6 31M51 72L51 83M80 20L80 32M62 84L70 90M117 12L121 18M74 79L75 85M10 38L8 44M119 71L123 78M30 58L36 60M32 20L43 26M27 45L27 49M59 69L68 79M54 80L57 92M65 83L63 94" stroke="#6a62aa" stroke-width="1.5" opacity="0.6"/><path d="M60 46L69 55M12 23L22 26M114 46L119 56M69 6L77 17M49 31L58 39M79 66L77 78" stroke="#6a62aa" stroke-width="1.0" opacity="0.6"/><path d="M42 33L48 36M90 17L90 29M68 48L72 52M64 63L66 73M42 81L37 87M42 46L39 54M-3 19L2 21M72 13L79 18M78 86L82 95M51 64L57 71M71 78L77 82M46 75L54 84M40 45L45 54M38 36L48 36" stroke="#50407e" stroke-width="2.5" opacity="0.6"/><path d="M57 70L64 77M14 24L13 31M116 18L122 22M47 64L54 65M63 69L71 71M13 41L15 48M34 47L40 52M-5 87L3 96M8 40L9 50M69 58L77 68M95 42L104 51M36 46L41 57" stroke="#50407e" stroke-width="2.0" opacity="0.6"/><path d="M35 34L33 45M25 35L28 39M67 71L75 75M73 89L74 94M113 22L118 28M61 62L67 63M61 66L67 78M41 42L39 54" stroke="#4a4a9c" stroke-width="2.5" opacity="0.6"/><path d="M14 57L14 62M31 82L37 89M59 78L61 82M76 13L80 25M41 91L42 96M40 73L47 77M50 14L56 20M52 83L55 88" stroke="#3a3c88" stroke-width="1.0" opacity="0.6"/><path d="M47 75L49 83M30 72L33 80M74 15L79 25M48 67L55 76M12 9L11 22M47 75L59 80M60 31L61 41M20 45L30 52M110 13L110 27M69 15L69 24M11 51L11 57M55 64L62 68M85 42L89 52M55 47L60 51M107 89L109 95M10 70L12 81M79 69L79 81M56 81L58 88M66 81L73 90" stroke="#6a62aa" stroke-width="2.0" opacity="0.6"/><path d="M61 63L72 88M114 -1L127 22M65 62L72 78M75 4L94 24M116 8L120 26M11 29L20 46M10 41L19 53M75 19L86 41M87 54L92 71M66 37L85 63M96 24L102 43M37 26L47 39M45 22L54 39M73 75L85 90M11 66L15 82M109 -4L117 25" stroke="#f4f0f2" stroke-width="1.0" opacity="1.0"/><path d="M81 64L89 76M-6 72L6 102M58 -1L69 14M8 14L24 38M33 45L41 68M29 51L39 71M84 69L94 88M29 41L32 59M-8 78L4 99M46 58L51 71M8 70L14 83M58 -16L73 12M118 33L125 46M97 31L107 45M106 44L118 67M75 32L91 50M12 31L23 56M55 -8L65 8M28 90L39 106M48 16L59 46M76 24L86 53M46 56L70 74M62 52L74 73M39 37L50 59M60 -14L73 11M98 52L108 69M46 80L50 105M98 54L111 77M94 86L106 106M34 -7L48 11M20 42L23 69M91 17L103 30M108 -3L118 13M27 13L44 41M53 66L64 82M61 23L72 55M25 20L34 41M48 20L59 44M39 11L47 40M65 63L70 81M58 69L65 82M39 36L49 67M78 -4L88 13M82 77L87 91M95 61L108 88M7 53L21 74M75 -2L85 29M0 55L3 73M36 63L43 88M95 8L101 22M59 76L65 101M58 17L76 46M110 61L124 88M99 30L117 48" stroke="#f4f0f2" stroke-width="1.5" opacity="0.8"/><path d="M115 82L123 113M97 35L99 57M84 38L91 52M8 37L18 63M86 87L100 106M51 29L66 58M-4 24L3 50M12 -6L15 10M16 85L17 101M5 32L12 46M82 -9L97 20M93 26L105 47M88 83L100 101M40 73L46 90M98 41L115 55M21 27L29 50M52 3L64 24M30 74L35 86M107 81L115 105M-2 -5L5 10M82 13L92 39M81 13L95 41M95 14L109 42M119 0L124 21M80 46L92 71M9 8L20 25M52 75L59 103M33 -5L42 14M49 14L56 27M29 42L34 56M92 54L112 78M-3 74L7 90M12 18L23 34M95 51L104 67M55 62L60 86M22 26L37 46M40 -2L43 18M73 19L82 40" stroke="#f4f0f2" stroke-width="1.0" opacity="0.8"/><path d="M39 76L56 98M54 45L70 69M63 10L69 42M92 13L103 34M-5 11L6 37M34 51L40 73M50 33L63 53M28 -1L38 15M92 24L100 51M52 6L56 21M29 20L40 48M47 -11L53 13M70 28L80 48" stroke="#f4f0f2" stroke-width="1.5" opacity="1.0"/><path d="M19 71L32 99M39 16L59 39M58 73L69 90M-6 72L11 102M36 42L41 56M55 60L62 76M109 66L120 84M83 2L94 19M15 77L28 93M5 35L16 54M75 13L87 30" stroke="#f4f0f2" stroke-width="1.5" opacity="0.6"/><path d="M-4 0L20 21M105 82L113 103M104 72L109 85M83 25L91 42M-2 72L12 101M106 63L115 78M61 4L70 29M0 3L12 26M92 25L97 49M70 10L83 35M13 -4L19 20M2 5L16 29M17 2L34 21" stroke="#f4f0f2" stroke-width="2.0" opacity="0.8"/><path d="M30 35L47 63M48 -10L53 13M50 -2L59 17M11 57L26 75M86 4L98 33M43 56L52 76M85 54L91 68M81 63L91 89M37 3L47 25" stroke="#f4f0f2" stroke-width="1.0" opacity="0.6"/><path d="M23 62L39 90M89 84L108 109M116 18L122 35M74 -9L90 20M113 5L120 19M41 62L50 79M9 15L18 41M-1 44L11 62M28 67L45 96" stroke="#f4f0f2" stroke-width="0.5" opacity="0.8"/><path d="M23 63L31 80" stroke="#f4f0f2" stroke-width="0.5" opacity="0.6"/><path d="M33 48L46 67M115 45L126 73M34 36L47 62M4 38L8 57M88 -3L99 10" stroke="#f4f0f2" stroke-width="2.0" opacity="0.6"/><path d="M117 27L121 53" stroke="#f4f0f2" stroke-width="2.0" opacity="1.0"/></g></svg>
<div class="t" style="left:390px;top:629.22px;font-size:11.2px;line-height:14.0px;font-family:'Liberation Serif', serif;font-weight:normal;color:#111;width:352.5px;text-align:justify;text-align-last:justify;white-space:normal;"><b>Figure 2: Panel A &amp; B:</b> When submitted to cumulative increases of</div>
<div class="t" style="left:390px;top:642.22px;font-size:11.2px;line-height:14.0px;font-family:'Liberation Serif', serif;font-weight:normal;color:#111;width:352.5px;text-align:justify;text-align-last:justify;white-space:normal;">bradykinin, AFib (red) patients showed a significant reduced maximum</div>
<div class="t" style="left:390px;top:655.22px;font-size:11.2px;line-height:14.0px;font-family:'Liberation Serif', serif;font-weight:normal;color:#111;width:352.5px;text-align:justify;text-align-last:justify;white-space:normal;">vasodilation compared to the control patient (black) with sinus rhythm (left</div>
<div class="t" style="left:390px;top:668.22px;font-size:11.2px;line-height:14.0px;font-family:'Liberation Serif', serif;font-weight:normal;color:#111;width:352.5px;text-align:justify;text-align-last:justify;white-space:normal;">panel), whereas, no significant changes were recorded in SNP-induced</div>
<div class="t" style="left:777.4px;top:444.98px;font-size:15.3px;line-height:19.12px;font-family:'Liberation Serif', serif;font-weight:normal;color:#111;width:406.6px;text-align:justify;text-align-last:justify;white-space:normal;"><b>Figure 3.</b> Representative images of Masson’s Trichrome staining</div>
<div class="t" style="left:777.4px;top:463.08px;font-size:15.3px;line-height:19.12px;font-family:'Liberation Serif', serif;font-weight:normal;color:#111;width:406.6px;text-align:justify;text-align-last:justify;white-space:normal;">(left panels) and summary data (right panel) show an increasing</div>
<div class="t" style="left:777.4px;top:481.18px;font-size:15.3px;line-height:19.12px;font-family:'Liberation Serif', serif;font-weight:normal;color:#111;width:406.6px;text-align:justify;text-align-last:justify;white-space:normal;">collagen content in the atrial appendages of AFib patients, when</div>
<div class="t" style="left:777.4px;top:499.28px;font-size:15.3px;line-height:19.12px;font-family:'Liberation Serif', serif;font-weight:normal;color:#111;width:406.6px;">compared to the control group.</div>
<div class="r" style="left:777px;top:527px;width:400px;height:22.5px;background:#03345f;box-shadow:inset 0 0 0 1px #0a2545;"></div>
<div class="t" style="left:777px;top:529.80px;width:400px;text-align:center;font-size:16px;line-height:20.0px;font-family:'Liberation Serif', serif;font-weight:bold;color:#fff;">CONCLUSIONS</div>
<div class="t" style="left:777.4px;top:556.08px;font-size:15.3px;line-height:19.12px;font-family:'Liberation Serif', serif;font-weight:normal;color:#111;width:397.2px;text-align:justify;text-align-last:justify;white-space:normal;">The collected data shows that patients with AFib have an</div>
<div class="t" style="left:777.4px;top:574.38px;font-size:15.3px;line-height:19.12px;font-family:'Liberation Serif', serif;font-weight:normal;color:#111;width:397.2px;text-align:justify;text-align-last:justify;white-space:normal;">increased collagen content in association with impaired</div>
<div class="t" style="left:777.4px;top:592.68px;font-size:15.3px;line-height:19.12px;font-family:'Liberation Serif', serif;font-weight:normal;color:#111;width:397.2px;text-align:justify;text-align-last:justify;white-space:normal;">endothelium-dependent vasodilatory response. Together, these</div>
<div class="t" style="left:777.4px;top:610.98px;font-size:15.3px;line-height:19.12px;font-family:'Liberation Serif', serif;font-weight:normal;color:#111;width:397.2px;text-align:justify;text-align-last:justify;white-space:normal;">data show that coronary microvascular dysfunction is</div>
<div class="t" style="left:777.4px;top:629.28px;font-size:15.3px;line-height:19.12px;font-family:'Liberation Serif', serif;font-weight:normal;color:#111;width:397.2px;text-align:justify;text-align-last:justify;white-space:normal;">accompanied by increased fibrosis, which may lead to hypoxia</div>
<div class="t" style="left:777.4px;top:647.58px;font-size:15.3px;line-height:19.12px;font-family:'Liberation Serif', serif;font-weight:normal;color:#111;width:397.2px;">and AFib.</div>
<div class="r" style="left:775.2px;top:669px;width:400.5px;height:6px;background:#03345f;"></div>
</body></html>
